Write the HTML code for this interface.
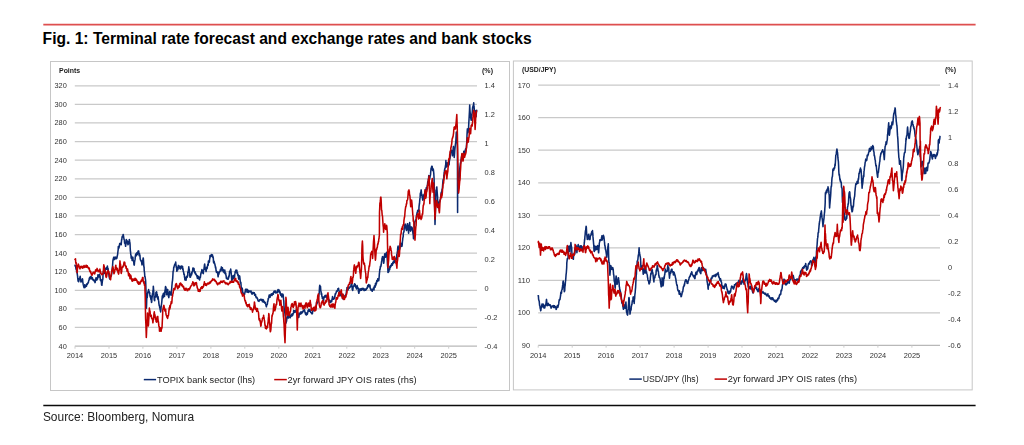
<!DOCTYPE html>
<html lang="en">
<head>
<meta charset="utf-8">
<title>Fig. 1: Terminal rate forecast and exchange rates and bank stocks</title>
<style>
  html, body { margin: 0; padding: 0; background: #ffffff; }
  body { width: 1024px; height: 445px; position: relative; overflow: hidden;
         font-family: 'Liberation Sans', sans-serif; }
  .title { position: absolute; left: 42.6px; top: 30.4px; margin: 0; font-size: 15.62px; line-height: 18px;
           font-weight: bold; color: #000; white-space: nowrap; }
  .source { position: absolute; left: 42.9px; top: 409.6px; margin: 0; font-size: 11.95px; line-height: 14px;
            color: #222; white-space: nowrap; }
  svg { position: absolute; left: 0; top: 0; will-change: transform; }
  svg text { font-family: 'Liberation Sans', sans-serif; }
</style>
</head>
<body>
<h1 class="title">Fig. 1: Terminal rate forecast and exchange rates and bank stocks</h1>
<svg width="1024" height="445" viewBox="0 0 1024 445">
<line x1="43.3" y1="24.65" x2="975.6" y2="24.65" stroke="#de4f4f" stroke-width="1.7"/>
<line x1="43.3" y1="405.55" x2="975.6" y2="405.55" stroke="#0a0a0a" stroke-width="1.5"/>
<rect x="50.5" y="61.5" width="459" height="329" fill="#fff" stroke="#c6c6c6"/>
<rect x="513.4" y="61" width="458.8" height="328.9" fill="#fff" stroke="#c6c6c6"/>
<line x1="74.8" y1="85.80" x2="477.0" y2="85.80" stroke="#c9c9c9" stroke-width="1.25"/>
<text x="66.8" y="88.0" font-size="7.9" text-anchor="end" font-weight="normal" fill="#333333" textLength="12.3" lengthAdjust="spacingAndGlyphs">320</text>
<line x1="74.8" y1="104.39" x2="477.0" y2="104.39" stroke="#c9c9c9" stroke-width="1.25"/>
<text x="66.8" y="107.0" font-size="7.9" text-anchor="end" font-weight="normal" fill="#333333" textLength="12.3" lengthAdjust="spacingAndGlyphs">300</text>
<line x1="74.8" y1="122.98" x2="477.0" y2="122.98" stroke="#c9c9c9" stroke-width="1.25"/>
<text x="66.8" y="125.0" font-size="7.9" text-anchor="end" font-weight="normal" fill="#333333" textLength="12.3" lengthAdjust="spacingAndGlyphs">280</text>
<line x1="74.8" y1="141.57" x2="477.0" y2="141.57" stroke="#c9c9c9" stroke-width="1.25"/>
<text x="66.8" y="144.0" font-size="7.9" text-anchor="end" font-weight="normal" fill="#333333" textLength="12.3" lengthAdjust="spacingAndGlyphs">260</text>
<line x1="74.8" y1="160.16" x2="477.0" y2="160.16" stroke="#c9c9c9" stroke-width="1.25"/>
<text x="66.8" y="163.0" font-size="7.9" text-anchor="end" font-weight="normal" fill="#333333" textLength="12.3" lengthAdjust="spacingAndGlyphs">240</text>
<line x1="74.8" y1="178.75" x2="477.0" y2="178.75" stroke="#c9c9c9" stroke-width="1.25"/>
<text x="66.8" y="181.0" font-size="7.9" text-anchor="end" font-weight="normal" fill="#333333" textLength="12.3" lengthAdjust="spacingAndGlyphs">220</text>
<line x1="74.8" y1="197.34" x2="477.0" y2="197.34" stroke="#c9c9c9" stroke-width="1.25"/>
<text x="66.8" y="200.0" font-size="7.9" text-anchor="end" font-weight="normal" fill="#333333" textLength="12.3" lengthAdjust="spacingAndGlyphs">200</text>
<line x1="74.8" y1="215.93" x2="477.0" y2="215.93" stroke="#c9c9c9" stroke-width="1.25"/>
<text x="66.8" y="218.0" font-size="7.9" text-anchor="end" font-weight="normal" fill="#333333" textLength="12.3" lengthAdjust="spacingAndGlyphs">180</text>
<line x1="74.8" y1="234.51" x2="477.0" y2="234.51" stroke="#c9c9c9" stroke-width="1.25"/>
<text x="66.8" y="237.0" font-size="7.9" text-anchor="end" font-weight="normal" fill="#333333" textLength="12.3" lengthAdjust="spacingAndGlyphs">160</text>
<line x1="74.8" y1="253.10" x2="477.0" y2="253.10" stroke="#c9c9c9" stroke-width="1.25"/>
<text x="66.8" y="256.0" font-size="7.9" text-anchor="end" font-weight="normal" fill="#333333" textLength="12.3" lengthAdjust="spacingAndGlyphs">140</text>
<line x1="74.8" y1="271.69" x2="477.0" y2="271.69" stroke="#c9c9c9" stroke-width="1.25"/>
<text x="66.8" y="274.0" font-size="7.9" text-anchor="end" font-weight="normal" fill="#333333" textLength="12.3" lengthAdjust="spacingAndGlyphs">120</text>
<line x1="74.8" y1="290.28" x2="477.0" y2="290.28" stroke="#c9c9c9" stroke-width="1.25"/>
<text x="66.8" y="293.0" font-size="7.9" text-anchor="end" font-weight="normal" fill="#333333" textLength="12.3" lengthAdjust="spacingAndGlyphs">100</text>
<line x1="74.8" y1="308.87" x2="477.0" y2="308.87" stroke="#c9c9c9" stroke-width="1.25"/>
<text x="66.8" y="311.0" font-size="7.9" text-anchor="end" font-weight="normal" fill="#333333" textLength="8.2" lengthAdjust="spacingAndGlyphs">80</text>
<line x1="74.8" y1="327.46" x2="477.0" y2="327.46" stroke="#c9c9c9" stroke-width="1.25"/>
<text x="66.8" y="330.0" font-size="7.9" text-anchor="end" font-weight="normal" fill="#333333" textLength="8.2" lengthAdjust="spacingAndGlyphs">60</text>
<line x1="74.8" y1="346.05" x2="477.0" y2="346.05" stroke="#b8b8b8" stroke-width="1.25"/>
<text x="66.8" y="349.0" font-size="7.9" text-anchor="end" font-weight="normal" fill="#333333" textLength="8.2" lengthAdjust="spacingAndGlyphs">40</text>
<text x="484.6" y="88.0" font-size="7.9" text-anchor="start" font-weight="normal" fill="#333333" textLength="10.3" lengthAdjust="spacingAndGlyphs">1.4</text>
<text x="484.6" y="117.0" font-size="7.9" text-anchor="start" font-weight="normal" fill="#333333" textLength="10.3" lengthAdjust="spacingAndGlyphs">1.2</text>
<text x="484.6" y="146.0" font-size="7.9" text-anchor="start" font-weight="normal" fill="#333333" textLength="4.1" lengthAdjust="spacingAndGlyphs">1</text>
<text x="484.6" y="175.0" font-size="7.9" text-anchor="start" font-weight="normal" fill="#333333" textLength="10.3" lengthAdjust="spacingAndGlyphs">0.8</text>
<text x="484.6" y="204.0" font-size="7.9" text-anchor="start" font-weight="normal" fill="#333333" textLength="10.3" lengthAdjust="spacingAndGlyphs">0.6</text>
<text x="484.6" y="233.0" font-size="7.9" text-anchor="start" font-weight="normal" fill="#333333" textLength="10.3" lengthAdjust="spacingAndGlyphs">0.4</text>
<text x="484.6" y="262.0" font-size="7.9" text-anchor="start" font-weight="normal" fill="#333333" textLength="10.3" lengthAdjust="spacingAndGlyphs">0.2</text>
<text x="484.6" y="291.0" font-size="7.9" text-anchor="start" font-weight="normal" fill="#333333" textLength="4.1" lengthAdjust="spacingAndGlyphs">0</text>
<text x="484.6" y="320.0" font-size="7.9" text-anchor="start" font-weight="normal" fill="#333333" textLength="12.8" lengthAdjust="spacingAndGlyphs">-0.2</text>
<text x="484.6" y="349.0" font-size="7.9" text-anchor="start" font-weight="normal" fill="#333333" textLength="12.8" lengthAdjust="spacingAndGlyphs">-0.4</text>
<line x1="75.0" y1="346.5" x2="75.0" y2="348.7" stroke="#cdcdcd"/>
<text x="75.0" y="358.4" font-size="7.9" text-anchor="middle" font-weight="normal" fill="#333333" textLength="16.5" lengthAdjust="spacingAndGlyphs">2014</text>
<line x1="109.0" y1="346.5" x2="109.0" y2="348.7" stroke="#cdcdcd"/>
<text x="109.0" y="358.4" font-size="7.9" text-anchor="middle" font-weight="normal" fill="#333333" textLength="16.5" lengthAdjust="spacingAndGlyphs">2015</text>
<line x1="142.9" y1="346.5" x2="142.9" y2="348.7" stroke="#cdcdcd"/>
<text x="142.9" y="358.4" font-size="7.9" text-anchor="middle" font-weight="normal" fill="#333333" textLength="16.5" lengthAdjust="spacingAndGlyphs">2016</text>
<line x1="176.9" y1="346.5" x2="176.9" y2="348.7" stroke="#cdcdcd"/>
<text x="176.9" y="358.4" font-size="7.9" text-anchor="middle" font-weight="normal" fill="#333333" textLength="16.5" lengthAdjust="spacingAndGlyphs">2017</text>
<line x1="210.9" y1="346.5" x2="210.9" y2="348.7" stroke="#cdcdcd"/>
<text x="210.9" y="358.4" font-size="7.9" text-anchor="middle" font-weight="normal" fill="#333333" textLength="16.5" lengthAdjust="spacingAndGlyphs">2018</text>
<line x1="244.8" y1="346.5" x2="244.8" y2="348.7" stroke="#cdcdcd"/>
<text x="244.8" y="358.4" font-size="7.9" text-anchor="middle" font-weight="normal" fill="#333333" textLength="16.5" lengthAdjust="spacingAndGlyphs">2019</text>
<line x1="278.8" y1="346.5" x2="278.8" y2="348.7" stroke="#cdcdcd"/>
<text x="278.8" y="358.4" font-size="7.9" text-anchor="middle" font-weight="normal" fill="#333333" textLength="16.5" lengthAdjust="spacingAndGlyphs">2020</text>
<line x1="312.8" y1="346.5" x2="312.8" y2="348.7" stroke="#cdcdcd"/>
<text x="312.8" y="358.4" font-size="7.9" text-anchor="middle" font-weight="normal" fill="#333333" textLength="16.5" lengthAdjust="spacingAndGlyphs">2021</text>
<line x1="346.8" y1="346.5" x2="346.8" y2="348.7" stroke="#cdcdcd"/>
<text x="346.8" y="358.4" font-size="7.9" text-anchor="middle" font-weight="normal" fill="#333333" textLength="16.5" lengthAdjust="spacingAndGlyphs">2022</text>
<line x1="380.7" y1="346.5" x2="380.7" y2="348.7" stroke="#cdcdcd"/>
<text x="380.7" y="358.4" font-size="7.9" text-anchor="middle" font-weight="normal" fill="#333333" textLength="16.5" lengthAdjust="spacingAndGlyphs">2023</text>
<line x1="414.7" y1="346.5" x2="414.7" y2="348.7" stroke="#cdcdcd"/>
<text x="414.7" y="358.4" font-size="7.9" text-anchor="middle" font-weight="normal" fill="#333333" textLength="16.5" lengthAdjust="spacingAndGlyphs">2024</text>
<line x1="448.7" y1="346.5" x2="448.7" y2="348.7" stroke="#cdcdcd"/>
<text x="448.7" y="358.4" font-size="7.9" text-anchor="middle" font-weight="normal" fill="#333333" textLength="16.5" lengthAdjust="spacingAndGlyphs">2025</text>
<text x="59.0" y="72.6" font-size="6.9" text-anchor="start" font-weight="bold" fill="#1a1a1a" textLength="21.2" lengthAdjust="spacingAndGlyphs">Points</text>
<text x="482.0" y="72.6" font-size="6.9" text-anchor="start" font-weight="bold" fill="#1a1a1a" textLength="11.0" lengthAdjust="spacingAndGlyphs">(%)</text>
<line x1="538.2" y1="85.20" x2="940.0" y2="85.20" stroke="#c9c9c9" stroke-width="1.25"/>
<text x="530.0" y="88.0" font-size="7.9" text-anchor="end" font-weight="normal" fill="#333333" textLength="12.3" lengthAdjust="spacingAndGlyphs">170</text>
<line x1="538.2" y1="117.72" x2="940.0" y2="117.72" stroke="#c9c9c9" stroke-width="1.25"/>
<text x="530.0" y="120.0" font-size="7.9" text-anchor="end" font-weight="normal" fill="#333333" textLength="12.3" lengthAdjust="spacingAndGlyphs">160</text>
<line x1="538.2" y1="150.24" x2="940.0" y2="150.24" stroke="#c9c9c9" stroke-width="1.25"/>
<text x="530.0" y="153.0" font-size="7.9" text-anchor="end" font-weight="normal" fill="#333333" textLength="12.3" lengthAdjust="spacingAndGlyphs">150</text>
<line x1="538.2" y1="182.76" x2="940.0" y2="182.76" stroke="#c9c9c9" stroke-width="1.25"/>
<text x="530.0" y="185.0" font-size="7.9" text-anchor="end" font-weight="normal" fill="#333333" textLength="12.3" lengthAdjust="spacingAndGlyphs">140</text>
<line x1="538.2" y1="215.28" x2="940.0" y2="215.28" stroke="#c9c9c9" stroke-width="1.25"/>
<text x="530.0" y="218.0" font-size="7.9" text-anchor="end" font-weight="normal" fill="#333333" textLength="12.3" lengthAdjust="spacingAndGlyphs">130</text>
<line x1="538.2" y1="247.79" x2="940.0" y2="247.79" stroke="#c9c9c9" stroke-width="1.25"/>
<text x="530.0" y="250.0" font-size="7.9" text-anchor="end" font-weight="normal" fill="#333333" textLength="12.3" lengthAdjust="spacingAndGlyphs">120</text>
<line x1="538.2" y1="280.31" x2="940.0" y2="280.31" stroke="#c9c9c9" stroke-width="1.25"/>
<text x="530.0" y="283.0" font-size="7.9" text-anchor="end" font-weight="normal" fill="#333333" textLength="12.3" lengthAdjust="spacingAndGlyphs">110</text>
<line x1="538.2" y1="312.83" x2="940.0" y2="312.83" stroke="#c9c9c9" stroke-width="1.25"/>
<text x="530.0" y="315.0" font-size="7.9" text-anchor="end" font-weight="normal" fill="#333333" textLength="12.3" lengthAdjust="spacingAndGlyphs">100</text>
<line x1="538.2" y1="345.35" x2="940.0" y2="345.35" stroke="#b8b8b8" stroke-width="1.25"/>
<text x="530.0" y="348.0" font-size="7.9" text-anchor="end" font-weight="normal" fill="#333333" textLength="8.2" lengthAdjust="spacingAndGlyphs">90</text>
<text x="948.0" y="88.0" font-size="7.9" text-anchor="start" font-weight="normal" fill="#333333" textLength="10.3" lengthAdjust="spacingAndGlyphs">1.4</text>
<text x="948.0" y="114.0" font-size="7.9" text-anchor="start" font-weight="normal" fill="#333333" textLength="10.3" lengthAdjust="spacingAndGlyphs">1.2</text>
<text x="948.0" y="140.0" font-size="7.9" text-anchor="start" font-weight="normal" fill="#333333" textLength="4.1" lengthAdjust="spacingAndGlyphs">1</text>
<text x="948.0" y="166.0" font-size="7.9" text-anchor="start" font-weight="normal" fill="#333333" textLength="10.3" lengthAdjust="spacingAndGlyphs">0.8</text>
<text x="948.0" y="192.0" font-size="7.9" text-anchor="start" font-weight="normal" fill="#333333" textLength="10.3" lengthAdjust="spacingAndGlyphs">0.6</text>
<text x="948.0" y="218.0" font-size="7.9" text-anchor="start" font-weight="normal" fill="#333333" textLength="10.3" lengthAdjust="spacingAndGlyphs">0.4</text>
<text x="948.0" y="244.0" font-size="7.9" text-anchor="start" font-weight="normal" fill="#333333" textLength="10.3" lengthAdjust="spacingAndGlyphs">0.2</text>
<text x="948.0" y="270.0" font-size="7.9" text-anchor="start" font-weight="normal" fill="#333333" textLength="4.1" lengthAdjust="spacingAndGlyphs">0</text>
<text x="948.0" y="296.0" font-size="7.9" text-anchor="start" font-weight="normal" fill="#333333" textLength="12.8" lengthAdjust="spacingAndGlyphs">-0.2</text>
<text x="948.0" y="322.0" font-size="7.9" text-anchor="start" font-weight="normal" fill="#333333" textLength="12.8" lengthAdjust="spacingAndGlyphs">-0.4</text>
<text x="948.0" y="348.0" font-size="7.9" text-anchor="start" font-weight="normal" fill="#333333" textLength="12.8" lengthAdjust="spacingAndGlyphs">-0.6</text>
<line x1="538.2" y1="345.5" x2="538.2" y2="347.7" stroke="#cdcdcd"/>
<text x="538.2" y="357.8" font-size="7.9" text-anchor="middle" font-weight="normal" fill="#333333" textLength="16.5" lengthAdjust="spacingAndGlyphs">2014</text>
<line x1="572.2" y1="345.5" x2="572.2" y2="347.7" stroke="#cdcdcd"/>
<text x="572.2" y="357.8" font-size="7.9" text-anchor="middle" font-weight="normal" fill="#333333" textLength="16.5" lengthAdjust="spacingAndGlyphs">2015</text>
<line x1="606.1" y1="345.5" x2="606.1" y2="347.7" stroke="#cdcdcd"/>
<text x="606.1" y="357.8" font-size="7.9" text-anchor="middle" font-weight="normal" fill="#333333" textLength="16.5" lengthAdjust="spacingAndGlyphs">2016</text>
<line x1="640.1" y1="345.5" x2="640.1" y2="347.7" stroke="#cdcdcd"/>
<text x="640.1" y="357.8" font-size="7.9" text-anchor="middle" font-weight="normal" fill="#333333" textLength="16.5" lengthAdjust="spacingAndGlyphs">2017</text>
<line x1="674.1" y1="345.5" x2="674.1" y2="347.7" stroke="#cdcdcd"/>
<text x="674.1" y="357.8" font-size="7.9" text-anchor="middle" font-weight="normal" fill="#333333" textLength="16.5" lengthAdjust="spacingAndGlyphs">2018</text>
<line x1="708.1" y1="345.5" x2="708.1" y2="347.7" stroke="#cdcdcd"/>
<text x="708.1" y="357.8" font-size="7.9" text-anchor="middle" font-weight="normal" fill="#333333" textLength="16.5" lengthAdjust="spacingAndGlyphs">2019</text>
<line x1="742.0" y1="345.5" x2="742.0" y2="347.7" stroke="#cdcdcd"/>
<text x="742.0" y="357.8" font-size="7.9" text-anchor="middle" font-weight="normal" fill="#333333" textLength="16.5" lengthAdjust="spacingAndGlyphs">2020</text>
<line x1="776.0" y1="345.5" x2="776.0" y2="347.7" stroke="#cdcdcd"/>
<text x="776.0" y="357.8" font-size="7.9" text-anchor="middle" font-weight="normal" fill="#333333" textLength="16.5" lengthAdjust="spacingAndGlyphs">2021</text>
<line x1="810.0" y1="345.5" x2="810.0" y2="347.7" stroke="#cdcdcd"/>
<text x="810.0" y="357.8" font-size="7.9" text-anchor="middle" font-weight="normal" fill="#333333" textLength="16.5" lengthAdjust="spacingAndGlyphs">2022</text>
<line x1="843.9" y1="345.5" x2="843.9" y2="347.7" stroke="#cdcdcd"/>
<text x="843.9" y="357.8" font-size="7.9" text-anchor="middle" font-weight="normal" fill="#333333" textLength="16.5" lengthAdjust="spacingAndGlyphs">2023</text>
<line x1="877.9" y1="345.5" x2="877.9" y2="347.7" stroke="#cdcdcd"/>
<text x="877.9" y="357.8" font-size="7.9" text-anchor="middle" font-weight="normal" fill="#333333" textLength="16.5" lengthAdjust="spacingAndGlyphs">2024</text>
<line x1="911.9" y1="345.5" x2="911.9" y2="347.7" stroke="#cdcdcd"/>
<text x="911.9" y="357.8" font-size="7.9" text-anchor="middle" font-weight="normal" fill="#333333" textLength="16.5" lengthAdjust="spacingAndGlyphs">2025</text>
<text x="522.0" y="72.2" font-size="6.9" text-anchor="start" font-weight="bold" fill="#1a1a1a" textLength="34.0" lengthAdjust="spacingAndGlyphs">(USD/JPY)</text>
<text x="945.0" y="72.2" font-size="6.9" text-anchor="start" font-weight="bold" fill="#1a1a1a" textLength="11.0" lengthAdjust="spacingAndGlyphs">(%)</text>
<path d="M75.0 265.2 L75.2 266.2 L75.5 265.8 L75.7 266.6 L75.9 268.4 L76.1 269.2 L76.3 267.8 L76.5 270.5 L76.7 270.1 L76.9 269.9 L77.1 272.7 L77.3 274.3 L77.6 276.4 L77.7 278.0 L77.9 279.3 L78.1 281.2 L78.3 281.0 L78.5 281.5 L78.7 281.7 L78.8 280.1 L79.0 278.8 L79.2 278.7 L79.4 278.2 L79.6 279.1 L79.8 277.9 L80.0 277.1 L80.2 276.2 L80.4 278.3 L80.6 280.6 L80.8 281.1 L81.0 282.0 L81.2 281.3 L81.4 280.7 L81.6 280.9 L81.8 279.8 L82.0 281.4 L82.2 280.3 L82.4 278.7 L82.6 279.4 L82.8 282.1 L83.0 283.0 L83.2 284.4 L83.4 285.1 L83.6 286.0 L83.8 286.9 L84.0 287.4 L84.2 287.7 L84.4 285.6 L84.6 284.8 L84.7 286.5 L84.9 286.8 L85.1 287.4 L85.3 286.4 L85.5 286.2 L85.7 285.8 L85.9 286.5 L86.1 285.0 L86.3 284.7 L86.5 286.2 L86.7 284.8 L86.9 283.7 L87.1 284.4 L87.3 284.3 L87.5 283.9 L87.7 283.1 L87.9 282.9 L88.1 282.9 L88.3 283.0 L88.5 281.6 L88.7 280.7 L88.9 280.2 L89.1 280.1 L89.3 278.1 L89.5 278.0 L89.7 277.4 L89.9 277.3 L90.1 278.9 L90.3 277.9 L90.4 276.8 L90.6 276.8 L90.8 277.3 L91.0 276.2 L91.2 277.1 L91.4 278.4 L91.6 277.9 L91.8 278.4 L92.0 279.1 L92.2 277.5 L92.4 277.7 L92.6 278.8 L92.8 279.4 L93.0 279.5 L93.2 280.3 L93.4 279.8 L93.6 280.3 L93.8 279.9 L94.0 280.3 L94.2 281.1 L94.4 281.5 L94.6 280.5 L94.8 282.0 L95.0 282.6 L95.2 282.2 L95.4 280.4 L95.6 279.1 L95.8 280.4 L96.0 277.7 L96.2 278.9 L96.3 279.1 L96.5 278.8 L96.7 279.3 L96.9 280.0 L97.1 277.8 L97.3 278.2 L97.5 279.1 L97.7 277.8 L97.9 274.9 L98.1 275.4 L98.3 275.0 L98.5 276.1 L98.7 275.6 L98.9 277.0 L99.1 275.7 L99.3 276.8 L99.5 274.2 L99.7 275.8 L99.9 275.6 L100.1 276.5 L100.3 279.6 L100.4 280.2 L100.6 280.6 L100.8 280.1 L101.0 279.4 L101.2 280.6 L101.4 282.5 L101.6 284.9 L101.7 284.5 L101.9 285.3 L102.1 283.4 L102.3 281.9 L102.5 279.8 L102.7 279.9 L102.9 278.3 L103.0 275.0 L103.2 272.5 L103.5 271.3 L103.7 272.2 L103.9 272.5 L104.1 273.1 L104.3 272.4 L104.5 272.4 L104.7 272.6 L104.9 273.5 L105.1 270.2 L105.3 268.4 L105.5 268.7 L105.7 268.5 L105.9 268.7 L106.1 268.9 L106.3 269.4 L106.5 268.0 L106.7 267.9 L106.8 267.2 L107.0 267.2 L107.2 268.4 L107.4 266.0 L107.6 269.0 L107.8 269.8 L108.0 268.2 L108.2 269.9 L108.4 271.9 L108.5 273.9 L108.7 274.0 L108.9 274.0 L109.1 276.5 L109.3 277.2 L109.5 278.3 L109.7 279.0 L109.9 277.3 L110.1 277.7 L110.3 276.7 L110.5 276.6 L110.7 276.5 L110.9 276.3 L111.1 275.5 L111.3 275.8 L111.5 274.5 L111.7 274.1 L111.9 272.2 L112.1 270.2 L112.2 268.6 L112.4 267.2 L112.6 265.3 L112.8 261.7 L113.0 259.8 L113.2 260.2 L113.4 258.1 L113.6 259.4 L113.8 257.2 L114.0 257.1 L114.2 258.3 L114.4 258.2 L114.6 259.4 L114.8 259.2 L115.0 257.6 L115.2 257.5 L115.4 257.1 L115.6 257.4 L115.8 258.3 L116.0 258.1 L116.2 257.4 L116.4 258.8 L116.5 257.6 L116.7 258.5 L116.9 258.1 L117.1 256.9 L117.3 255.9 L117.6 254.6 L117.8 252.5 L118.0 250.9 L118.2 249.6 L118.3 246.6 L118.5 247.3 L118.7 246.6 L118.9 248.1 L119.1 247.2 L119.3 246.6 L119.5 244.8 L119.7 243.5 L119.9 244.6 L120.1 243.4 L120.3 243.5 L120.5 243.4 L120.8 243.5 L121.0 244.6 L121.2 244.8 L121.4 242.0 L121.6 239.6 L121.8 239.9 L122.0 237.5 L122.1 237.1 L122.3 236.2 L122.5 236.8 L122.7 236.3 L122.9 236.9 L123.1 234.5 L123.3 234.6 L123.5 236.5 L123.7 237.5 L123.9 238.4 L124.1 239.7 L124.3 239.7 L124.5 241.9 L124.6 243.1 L124.8 243.3 L125.0 243.2 L125.2 243.8 L125.4 244.7 L125.6 246.3 L125.8 244.4 L126.0 244.2 L126.2 239.7 L126.4 239.5 L126.6 241.1 L126.8 241.8 L127.0 242.2 L127.2 242.7 L127.4 241.0 L127.6 241.4 L127.8 243.8 L128.0 244.8 L128.2 244.2 L128.4 243.5 L128.6 243.2 L128.8 243.6 L128.9 241.7 L129.1 242.2 L129.3 239.5 L129.5 240.1 L129.7 242.2 L129.9 242.6 L130.1 244.9 L130.2 248.0 L130.4 251.2 L130.6 252.6 L130.8 255.1 L131.0 255.1 L131.2 258.2 L131.4 257.1 L131.6 256.3 L131.8 257.9 L132.0 258.9 L132.1 260.4 L132.3 258.2 L132.5 258.7 L132.7 257.9 L132.9 257.2 L133.1 260.2 L133.3 260.7 L133.6 261.1 L133.8 262.7 L134.0 264.8 L134.2 265.1 L134.4 264.1 L134.5 262.1 L134.7 261.3 L134.9 260.0 L135.1 259.4 L135.3 256.3 L135.5 255.2 L135.7 254.1 L135.9 255.1 L136.1 255.9 L136.3 255.4 L136.5 253.5 L136.7 253.0 L136.9 252.7 L137.1 253.1 L137.3 254.6 L137.5 252.4 L137.7 253.5 L137.9 252.4 L138.1 251.1 L138.3 251.5 L138.5 252.9 L138.7 250.9 L138.8 252.3 L139.0 253.4 L139.2 255.6 L139.4 255.1 L139.6 253.8 L139.8 255.3 L140.0 256.1 L140.2 259.0 L140.4 259.6 L140.6 260.2 L140.8 260.4 L141.0 260.9 L141.2 260.6 L141.4 261.5 L141.6 262.0 L141.8 263.7 L142.0 264.9 L142.2 263.0 L142.4 264.0 L142.6 262.3 L142.8 260.0 L143.0 259.7 L143.1 258.1 L143.3 258.1 L143.5 260.6 L143.7 264.0 L143.9 266.9 L144.1 267.0 L144.2 270.5 L144.4 271.5 L144.6 273.3 L144.8 276.7 L145.0 276.4 L145.2 277.6 L145.4 279.1 L145.6 280.2 L145.8 284.7 L146.0 291.1 L146.2 300.2 L146.4 308.2 L146.6 304.3 L146.8 297.1 L147.1 296.2 L147.2 297.6 L147.4 295.6 L147.6 293.4 L147.8 292.5 L148.0 291.6 L148.2 292.0 L148.4 291.0 L148.6 289.6 L148.7 291.0 L148.9 291.5 L149.1 291.3 L149.3 292.2 L149.5 293.5 L149.7 292.5 L149.8 294.4 L150.0 295.9 L150.2 296.5 L150.4 297.3 L150.6 295.8 L150.8 298.9 L151.0 299.7 L151.3 300.2 L151.5 302.5 L151.7 302.1 L151.9 298.7 L152.1 297.3 L152.2 296.7 L152.4 294.1 L152.6 293.2 L152.8 292.4 L153.0 290.4 L153.2 289.7 L153.3 286.2 L153.5 288.2 L153.7 291.2 L153.9 293.9 L154.1 297.4 L154.3 300.3 L154.5 299.6 L154.7 300.7 L154.8 296.8 L155.0 297.5 L155.2 297.3 L155.4 296.5 L155.6 296.9 L155.8 295.8 L155.9 292.6 L156.1 293.2 L156.3 292.0 L156.5 291.8 L156.7 292.0 L156.9 294.6 L157.1 297.1 L157.3 294.5 L157.5 297.7 L157.8 299.0 L157.9 297.5 L158.1 296.7 L158.3 298.5 L158.5 300.2 L158.7 301.3 L158.9 303.8 L159.0 304.0 L159.2 305.6 L159.4 305.6 L159.6 307.1 L159.8 307.8 L160.0 308.4 L160.2 309.9 L160.4 310.3 L160.6 311.9 L160.8 310.9 L161.0 308.5 L161.2 306.4 L161.4 305.1 L161.6 303.5 L161.8 301.8 L162.0 299.4 L162.2 297.5 L162.3 296.0 L162.5 296.4 L162.7 295.1 L162.9 296.1 L163.1 297.8 L163.3 293.5 L163.5 294.0 L163.7 294.3 L163.9 293.1 L164.1 295.5 L164.3 295.3 L164.5 296.5 L164.7 293.7 L164.9 291.3 L165.1 289.9 L165.3 290.5 L165.4 287.0 L165.6 286.5 L165.8 289.1 L166.0 287.6 L166.2 292.5 L166.4 292.1 L166.5 294.6 L166.7 294.8 L166.9 294.1 L167.1 292.1 L167.3 289.6 L167.5 290.1 L167.7 289.4 L167.8 291.5 L168.0 293.0 L168.2 294.3 L168.4 296.3 L168.6 296.7 L168.8 297.6 L169.0 296.1 L169.2 294.6 L169.4 293.5 L169.6 291.6 L169.8 292.4 L170.0 293.6 L170.2 293.8 L170.4 294.2 L170.6 292.3 L170.8 292.5 L170.9 293.6 L171.1 295.3 L171.3 293.5 L171.5 291.0 L171.7 288.5 L171.9 285.8 L172.1 283.7 L172.2 282.4 L172.5 280.6 L172.7 278.4 L172.9 275.2 L173.1 271.4 L173.3 270.9 L173.5 270.8 L173.7 267.6 L173.9 267.7 L174.1 266.3 L174.3 266.2 L174.5 265.1 L174.7 264.4 L174.9 264.3 L175.1 263.7 L175.3 264.4 L175.5 263.4 L175.7 262.1 L175.9 264.3 L176.1 265.8 L176.3 267.3 L176.5 266.5 L176.7 269.7 L176.9 271.3 L177.0 270.9 L177.2 269.3 L177.4 268.0 L177.6 269.7 L177.8 269.8 L178.0 269.3 L178.2 267.6 L178.4 265.4 L178.6 266.0 L178.8 266.7 L179.0 266.3 L179.2 266.1 L179.4 267.0 L179.6 267.5 L179.8 268.4 L180.0 268.1 L180.2 268.1 L180.4 269.0 L180.6 267.3 L180.8 266.4 L181.0 266.1 L181.2 266.8 L181.4 267.8 L181.6 266.0 L181.8 268.0 L182.0 267.8 L182.2 267.2 L182.4 266.4 L182.6 266.6 L182.7 269.5 L182.9 268.3 L183.1 269.6 L183.3 271.6 L183.5 271.6 L183.7 272.5 L183.9 274.4 L184.1 274.6 L184.3 274.1 L184.5 277.0 L184.7 277.7 L184.9 279.9 L185.1 279.5 L185.3 279.2 L185.5 278.1 L185.7 279.0 L185.9 280.2 L186.1 280.1 L186.3 277.4 L186.5 276.5 L186.7 276.2 L186.9 276.3 L187.1 277.5 L187.3 277.0 L187.5 276.2 L187.7 275.7 L187.8 272.1 L188.0 272.7 L188.2 271.9 L188.4 270.3 L188.6 269.0 L188.8 266.8 L189.0 269.2 L189.2 269.0 L189.4 271.3 L189.6 272.9 L189.7 275.8 L189.9 276.2 L190.1 277.3 L190.3 277.2 L190.5 277.1 L190.7 276.0 L190.9 274.0 L191.1 275.0 L191.3 275.1 L191.5 275.0 L191.7 272.2 L191.9 273.9 L192.1 271.7 L192.3 271.9 L192.5 271.6 L192.7 269.7 L192.9 268.0 L193.1 268.9 L193.3 268.9 L193.5 268.2 L193.8 269.2 L194.0 268.4 L194.2 270.6 L194.4 272.1 L194.5 271.5 L194.7 272.7 L194.9 272.9 L195.1 271.8 L195.3 273.5 L195.5 274.1 L195.7 273.2 L195.9 274.2 L196.1 274.2 L196.3 275.2 L196.5 275.0 L196.7 275.1 L196.9 276.3 L197.1 275.4 L197.3 278.1 L197.5 277.0 L197.7 275.7 L197.9 277.7 L198.1 278.5 L198.3 277.4 L198.5 276.7 L198.7 277.7 L198.9 277.3 L199.0 278.3 L199.2 279.3 L199.4 277.7 L199.6 280.0 L199.8 278.5 L200.0 277.7 L200.2 276.6 L200.4 277.4 L200.6 275.5 L200.8 273.7 L201.0 273.8 L201.2 272.2 L201.4 272.7 L201.5 272.2 L201.7 271.5 L201.9 269.5 L202.1 270.2 L202.3 271.3 L202.5 271.1 L202.7 271.4 L202.9 273.1 L203.1 273.3 L203.3 273.6 L203.5 271.2 L203.7 269.9 L203.9 269.8 L204.1 267.8 L204.3 266.6 L204.5 264.7 L204.7 264.1 L204.9 266.1 L205.1 268.1 L205.3 269.5 L205.5 269.2 L205.7 269.1 L205.9 270.5 L206.1 271.5 L206.3 269.1 L206.5 268.1 L206.7 267.3 L206.9 268.4 L207.1 268.7 L207.3 267.5 L207.4 266.5 L207.6 265.6 L207.8 264.4 L208.0 264.6 L208.2 265.3 L208.4 261.0 L208.6 261.1 L208.8 261.8 L209.0 262.4 L209.2 262.2 L209.4 262.0 L209.6 259.3 L209.8 258.5 L210.0 255.6 L210.2 257.3 L210.4 255.2 L210.6 256.7 L210.8 255.7 L211.0 255.7 L211.2 256.4 L211.4 255.9 L211.6 254.5 L211.8 254.9 L212.0 255.4 L212.3 255.3 L212.5 255.0 L212.7 256.6 L212.9 257.7 L213.1 256.8 L213.3 258.1 L213.5 261.9 L213.7 262.8 L213.9 261.0 L214.1 261.6 L214.3 262.2 L214.5 263.8 L214.7 263.9 L214.9 264.0 L215.1 265.6 L215.3 266.1 L215.5 267.8 L215.7 267.0 L215.9 268.6 L216.1 271.1 L216.3 270.7 L216.5 272.4 L216.7 271.5 L216.9 271.5 L217.1 272.2 L217.3 271.9 L217.5 271.9 L217.7 272.9 L217.9 275.4 L218.1 276.8 L218.3 275.4 L218.5 273.8 L218.7 273.1 L218.9 274.1 L219.0 272.6 L219.2 271.7 L219.4 272.7 L219.6 271.7 L219.8 271.4 L220.0 271.1 L220.2 270.8 L220.4 269.3 L220.6 269.4 L220.8 271.0 L221.0 270.1 L221.2 268.6 L221.4 266.9 L221.6 267.9 L221.8 268.0 L222.0 269.7 L222.2 269.8 L222.4 267.7 L222.6 270.5 L222.8 270.8 L223.0 270.6 L223.2 269.6 L223.4 272.0 L223.6 270.2 L223.8 270.7 L224.0 270.3 L224.2 271.7 L224.4 272.9 L224.6 272.2 L224.8 270.1 L224.9 271.5 L225.1 272.0 L225.3 274.0 L225.5 273.1 L225.7 273.0 L225.9 275.2 L226.1 275.6 L226.3 277.7 L226.5 278.5 L226.7 278.5 L226.9 278.0 L227.1 278.5 L227.3 279.0 L227.5 279.1 L227.7 278.6 L227.9 278.9 L228.1 278.4 L228.3 279.1 L228.5 276.5 L228.7 277.9 L228.9 276.1 L229.1 275.5 L229.2 276.1 L229.4 273.6 L229.6 271.4 L229.8 271.8 L230.0 271.3 L230.2 272.4 L230.3 271.9 L230.5 270.1 L230.7 269.1 L230.9 270.5 L231.1 272.3 L231.2 273.7 L231.4 275.4 L231.6 278.3 L231.8 280.9 L232.0 280.3 L232.2 279.7 L232.4 279.1 L232.6 278.5 L232.8 278.0 L233.0 275.9 L233.2 275.7 L233.4 275.5 L233.6 275.6 L233.8 278.0 L234.0 278.8 L234.2 277.4 L234.4 275.6 L234.6 276.6 L234.7 274.7 L234.9 273.9 L235.2 271.6 L235.4 272.3 L235.6 270.9 L235.8 271.8 L236.0 270.1 L236.2 271.2 L236.4 270.5 L236.6 271.2 L236.8 271.1 L236.9 270.2 L237.1 273.4 L237.3 273.5 L237.5 272.5 L237.7 275.1 L237.9 274.4 L238.1 274.4 L238.4 277.0 L238.6 278.4 L238.7 279.1 L238.9 277.1 L239.1 278.0 L239.3 275.8 L239.5 277.5 L239.7 276.0 L239.8 277.0 L240.0 278.9 L240.2 280.6 L240.4 283.0 L240.6 282.3 L240.8 282.2 L241.0 284.1 L241.2 287.3 L241.4 290.1 L241.6 290.7 L241.8 289.1 L242.0 288.6 L242.2 288.1 L242.4 289.4 L242.5 291.0 L242.7 293.0 L242.9 292.1 L243.1 293.2 L243.3 294.4 L243.5 294.8 L243.7 295.1 L243.9 294.8 L244.1 295.0 L244.3 294.8 L244.5 294.7 L244.7 293.1 L244.9 293.0 L245.1 291.6 L245.3 291.9 L245.5 289.3 L245.7 289.8 L245.9 290.5 L246.1 289.2 L246.3 289.2 L246.5 289.7 L246.7 289.6 L246.9 291.0 L247.1 292.3 L247.2 290.8 L247.4 289.4 L247.6 289.7 L247.8 290.4 L248.0 290.4 L248.2 290.9 L248.4 292.5 L248.6 291.1 L248.8 291.7 L249.0 290.8 L249.2 291.5 L249.4 291.8 L249.6 291.6 L249.8 291.2 L250.0 291.5 L250.2 291.7 L250.4 291.2 L250.6 291.1 L250.8 291.3 L251.0 290.9 L251.2 292.5 L251.4 292.9 L251.6 293.3 L251.8 292.2 L251.9 293.6 L252.1 294.2 L252.3 293.5 L252.5 293.4 L252.7 292.9 L252.9 292.7 L253.1 292.6 L253.3 292.4 L253.5 292.4 L253.7 293.3 L253.9 293.5 L254.1 293.3 L254.3 292.8 L254.5 294.5 L254.7 295.3 L254.9 295.2 L255.1 294.5 L255.3 294.8 L255.5 294.4 L255.7 296.3 L255.9 296.9 L256.1 297.1 L256.3 297.6 L256.5 297.1 L256.7 297.6 L256.8 297.3 L257.0 298.2 L257.2 297.9 L257.4 298.8 L257.6 298.7 L257.8 299.8 L258.0 300.7 L258.2 300.9 L258.4 300.9 L258.6 300.8 L258.8 301.3 L259.0 301.4 L259.2 300.5 L259.4 300.6 L259.6 299.7 L259.8 300.3 L260.0 299.8 L260.2 299.8 L260.4 299.7 L260.6 300.0 L260.8 299.6 L261.0 299.1 L261.2 299.5 L261.4 300.1 L261.5 299.7 L261.7 300.3 L261.9 300.6 L262.1 299.5 L262.3 300.6 L262.5 301.8 L262.7 301.6 L262.9 300.1 L263.1 299.6 L263.3 300.2 L263.5 300.3 L263.7 300.6 L263.9 302.3 L264.1 302.2 L264.3 302.2 L264.5 301.8 L264.7 301.8 L264.9 303.2 L265.1 302.8 L265.3 302.6 L265.5 303.3 L265.7 303.8 L265.9 304.8 L266.1 305.9 L266.2 306.3 L266.4 306.8 L266.6 304.8 L266.8 305.3 L267.0 304.6 L267.2 304.5 L267.4 303.9 L267.6 301.2 L267.8 301.5 L268.0 300.8 L268.2 298.5 L268.4 299.2 L268.6 298.1 L268.8 297.2 L269.0 296.0 L269.3 294.9 L269.5 295.2 L269.7 297.0 L269.9 296.5 L270.1 297.2 L270.3 295.3 L270.5 295.6 L270.7 295.4 L270.9 294.4 L271.0 294.2 L271.2 294.0 L271.4 294.0 L271.6 293.8 L271.8 295.0 L272.0 295.5 L272.2 294.8 L272.4 294.0 L272.6 293.6 L272.8 293.3 L273.0 293.7 L273.2 294.3 L273.4 294.0 L273.6 292.4 L273.8 292.1 L274.0 291.3 L274.2 291.6 L274.4 291.4 L274.6 292.1 L274.8 291.1 L275.0 291.9 L275.2 292.1 L275.4 291.6 L275.6 291.0 L275.7 293.0 L275.9 292.7 L276.1 292.3 L276.3 292.6 L276.5 292.6 L276.7 292.7 L276.9 292.6 L277.1 292.4 L277.3 292.7 L277.5 291.3 L277.7 290.0 L277.9 290.7 L278.1 289.6 L278.3 291.0 L278.5 290.0 L278.7 291.2 L278.9 291.8 L279.1 290.0 L279.3 291.2 L279.5 292.6 L279.7 291.3 L279.9 291.5 L280.1 292.8 L280.3 292.7 L280.4 294.3 L280.6 295.2 L280.8 293.5 L281.0 294.4 L281.2 295.7 L281.4 295.6 L281.6 295.3 L281.8 296.9 L282.0 295.3 L282.2 294.1 L282.4 296.3 L282.6 296.3 L282.8 296.8 L283.0 294.3 L283.2 295.2 L283.4 297.7 L283.6 299.7 L283.8 301.0 L284.0 305.7 L284.2 308.5 L284.4 311.1 L284.6 311.3 L284.8 312.6 L285.0 314.0 L285.2 316.2 L285.4 315.7 L285.6 317.3 L285.7 321.1 L285.9 321.7 L286.1 322.9 L286.3 321.2 L286.5 321.4 L286.7 320.1 L286.9 318.5 L287.1 318.2 L287.3 317.1 L287.6 316.2 L287.8 315.9 L288.0 315.8 L288.2 315.2 L288.4 317.2 L288.6 318.0 L288.8 316.2 L289.0 315.0 L289.2 315.5 L289.4 312.7 L289.6 313.3 L289.8 314.9 L290.0 315.8 L290.1 317.0 L290.3 317.7 L290.5 316.3 L290.7 315.8 L290.9 316.2 L291.1 315.2 L291.3 315.4 L291.5 316.1 L291.7 314.7 L291.9 314.0 L292.1 315.5 L292.3 315.7 L292.5 313.7 L292.7 313.7 L292.9 315.0 L293.1 313.7 L293.3 313.4 L293.5 312.4 L293.7 310.4 L293.9 311.3 L294.1 311.7 L294.3 311.9 L294.5 310.8 L294.7 311.8 L294.8 312.5 L295.0 312.5 L295.2 312.0 L295.4 311.5 L295.6 310.9 L295.8 311.1 L296.0 310.1 L296.2 310.3 L296.4 310.8 L296.6 311.1 L296.8 312.0 L297.0 313.2 L297.2 313.3 L297.4 313.0 L297.6 313.0 L297.8 313.6 L298.0 313.0 L298.2 316.3 L298.5 316.5 L298.7 317.5 L298.9 316.9 L299.1 315.4 L299.3 314.4 L299.5 314.2 L299.6 313.9 L299.8 313.3 L300.0 312.8 L300.2 314.2 L300.4 312.8 L300.6 312.0 L300.8 312.6 L301.0 313.7 L301.2 313.6 L301.4 313.4 L301.6 312.3 L301.8 311.9 L302.0 312.2 L302.2 312.3 L302.4 312.7 L302.6 311.3 L302.8 311.3 L303.0 311.8 L303.2 311.1 L303.4 310.6 L303.6 310.7 L303.8 310.2 L304.0 310.2 L304.2 310.6 L304.3 310.6 L304.5 309.8 L304.7 310.9 L304.9 311.9 L305.1 312.9 L305.3 313.1 L305.5 314.1 L305.7 313.3 L305.9 312.8 L306.1 313.8 L306.3 315.0 L306.5 314.2 L306.7 314.5 L306.9 313.4 L307.1 314.0 L307.3 314.4 L307.5 313.6 L307.7 312.4 L307.9 311.8 L308.1 310.2 L308.3 311.4 L308.5 310.9 L308.7 310.7 L308.9 309.2 L309.0 310.4 L309.2 310.7 L309.4 311.3 L309.6 310.8 L309.8 310.6 L310.0 309.7 L310.2 311.4 L310.4 311.2 L310.6 312.3 L310.8 312.4 L311.0 312.4 L311.2 312.8 L311.4 312.7 L311.6 313.2 L311.8 313.7 L312.0 313.3 L312.2 313.3 L312.4 313.8 L312.6 311.2 L312.8 310.7 L313.0 309.7 L313.2 309.2 L313.4 309.8 L313.6 310.2 L313.7 310.6 L313.9 310.5 L314.1 309.3 L314.3 309.2 L314.5 308.3 L314.7 308.5 L314.9 309.8 L315.1 309.0 L315.3 309.3 L315.5 308.3 L315.7 306.8 L315.9 306.4 L316.1 307.4 L316.3 305.5 L316.5 303.8 L316.7 302.4 L316.9 303.9 L317.1 302.8 L317.3 302.5 L317.5 302.7 L317.7 302.2 L317.9 302.2 L318.1 300.1 L318.3 299.1 L318.5 296.8 L318.6 297.0 L318.8 295.7 L319.0 294.1 L319.2 293.0 L319.4 289.4 L319.6 286.3 L319.8 285.2 L320.0 286.5 L320.2 287.6 L320.5 286.4 L320.7 289.6 L320.9 290.9 L321.1 292.0 L321.3 294.5 L321.5 293.1 L321.7 293.9 L321.9 296.5 L322.1 296.5 L322.3 298.3 L322.5 298.6 L322.7 298.2 L322.9 297.2 L323.1 297.1 L323.3 297.4 L323.4 298.9 L323.6 300.9 L323.8 297.8 L324.0 297.7 L324.2 297.0 L324.4 296.5 L324.6 297.4 L324.8 296.3 L325.0 295.5 L325.2 296.0 L325.4 295.8 L325.6 296.7 L325.8 296.9 L326.0 295.2 L326.2 295.5 L326.4 295.7 L326.6 296.0 L326.8 297.3 L327.0 298.1 L327.2 297.3 L327.4 297.3 L327.6 297.5 L327.8 298.8 L328.0 298.5 L328.1 298.4 L328.3 297.4 L328.5 298.7 L328.7 299.3 L328.9 299.3 L329.1 300.8 L329.3 301.5 L329.5 302.5 L329.7 301.7 L329.9 301.6 L330.1 301.4 L330.3 302.4 L330.5 302.4 L330.7 301.9 L330.9 300.7 L331.1 301.4 L331.3 300.4 L331.5 300.7 L331.7 301.7 L331.9 300.3 L332.1 298.7 L332.3 298.7 L332.5 296.6 L332.7 296.9 L332.8 297.1 L333.0 298.5 L333.2 299.1 L333.4 299.1 L333.6 299.3 L333.8 298.6 L334.0 298.4 L334.2 298.1 L334.4 298.6 L334.6 297.7 L334.8 297.1 L335.0 296.0 L335.2 293.9 L335.4 293.7 L335.6 294.0 L335.8 293.4 L336.0 293.0 L336.2 292.3 L336.4 291.3 L336.6 291.9 L336.8 290.9 L337.0 291.1 L337.2 291.3 L337.4 290.4 L337.6 290.0 L337.8 288.8 L338.0 288.9 L338.2 289.6 L338.4 290.0 L338.6 288.3 L338.8 290.0 L339.0 290.5 L339.2 290.9 L339.4 291.7 L339.6 293.4 L339.8 293.6 L340.0 293.8 L340.2 294.9 L340.4 293.9 L340.6 293.9 L340.8 294.9 L341.0 295.9 L341.2 295.5 L341.4 295.5 L341.6 294.6 L341.8 294.1 L342.0 294.5 L342.2 294.1 L342.3 296.8 L342.5 296.8 L342.7 297.3 L342.9 298.9 L343.1 298.5 L343.3 297.6 L343.5 297.3 L343.7 297.2 L343.9 297.5 L344.1 297.9 L344.3 297.0 L344.5 297.1 L344.7 297.1 L344.9 295.5 L345.1 296.6 L345.3 296.9 L345.5 296.3 L345.7 295.4 L345.9 294.9 L346.1 294.1 L346.3 292.8 L346.5 291.1 L346.7 289.9 L346.9 290.1 L347.0 287.5 L347.2 289.1 L347.4 287.3 L347.6 288.6 L347.8 289.8 L348.0 290.0 L348.2 289.3 L348.4 288.4 L348.6 287.2 L348.8 288.0 L349.0 288.2 L349.2 287.3 L349.4 288.0 L349.6 287.7 L349.8 287.3 L350.0 287.4 L350.2 287.0 L350.4 286.3 L350.6 286.5 L350.8 286.5 L351.0 285.6 L351.2 284.1 L351.4 284.0 L351.6 283.5 L351.8 283.1 L351.9 285.6 L352.1 286.4 L352.3 289.8 L352.5 289.6 L352.7 290.4 L352.9 289.4 L353.1 287.3 L353.3 286.6 L353.5 286.4 L353.7 285.9 L353.9 286.1 L354.1 285.8 L354.3 284.7 L354.5 283.8 L354.8 283.9 L355.0 283.9 L355.2 284.5 L355.3 285.0 L355.5 286.9 L355.7 286.8 L355.9 287.6 L356.1 287.0 L356.3 288.0 L356.5 288.9 L356.7 286.3 L356.9 287.8 L357.1 285.6 L357.3 287.0 L357.4 286.8 L357.6 287.3 L357.8 287.8 L358.0 288.7 L358.2 288.0 L358.4 291.4 L358.6 292.3 L358.8 293.3 L359.0 293.0 L359.2 291.5 L359.4 289.5 L359.6 289.9 L359.8 289.1 L360.0 288.8 L360.2 289.0 L360.4 290.5 L360.6 290.3 L360.8 289.4 L361.0 288.8 L361.2 289.1 L361.4 290.2 L361.6 289.9 L361.8 289.8 L362.0 289.3 L362.2 288.2 L362.4 289.6 L362.6 289.3 L362.8 289.3 L363.0 289.1 L363.1 288.9 L363.3 288.6 L363.5 289.4 L363.7 288.6 L363.9 290.4 L364.1 290.3 L364.3 290.4 L364.5 290.4 L364.7 290.4 L364.9 289.3 L365.1 289.1 L365.3 289.1 L365.5 290.2 L365.7 289.2 L365.9 289.1 L366.1 289.7 L366.3 289.4 L366.5 289.0 L366.7 288.8 L366.9 287.8 L367.1 287.8 L367.3 288.2 L367.5 287.1 L367.7 285.5 L367.9 286.7 L368.1 286.5 L368.3 286.3 L368.5 285.1 L368.7 284.5 L368.9 284.6 L369.0 285.5 L369.2 286.8 L369.4 285.6 L369.6 286.0 L369.8 285.8 L370.0 285.3 L370.2 287.9 L370.4 288.7 L370.6 288.4 L370.8 288.9 L371.0 290.2 L371.2 290.3 L371.4 289.9 L371.6 290.2 L371.8 290.2 L372.0 290.3 L372.2 291.3 L372.4 289.6 L372.6 289.6 L372.8 289.7 L373.0 289.6 L373.2 288.5 L373.4 288.0 L373.6 288.7 L373.8 289.8 L374.0 290.0 L374.2 287.2 L374.4 286.1 L374.6 287.0 L374.8 287.0 L374.9 287.3 L375.1 287.2 L375.3 285.5 L375.5 283.2 L375.7 285.6 L375.9 283.9 L376.1 284.1 L376.3 284.0 L376.5 283.1 L376.7 280.8 L376.9 281.1 L377.1 281.0 L377.3 281.6 L377.5 280.5 L377.7 278.8 L377.9 279.4 L378.1 279.2 L378.4 279.7 L378.6 280.8 L378.8 280.4 L379.0 278.5 L379.2 276.2 L379.4 273.4 L379.6 272.0 L379.8 269.2 L380.0 269.5 L380.2 268.3 L380.4 266.3 L380.6 266.9 L380.9 266.3 L381.1 264.3 L381.2 265.1 L381.4 263.2 L381.6 261.4 L381.8 261.2 L382.0 258.4 L382.2 258.9 L382.4 256.7 L382.6 256.9 L382.8 256.6 L383.0 258.5 L383.2 260.1 L383.4 259.7 L383.6 263.3 L383.8 262.9 L384.0 261.2 L384.2 258.5 L384.4 256.8 L384.6 254.7 L384.8 253.7 L384.9 254.7 L385.1 254.8 L385.3 254.1 L385.5 257.2 L385.7 256.1 L386.0 255.0 L386.2 254.9 L386.4 252.7 L386.6 252.3 L386.8 256.6 L387.1 257.3 L387.3 260.4 L387.5 264.9 L387.8 267.8 L388.0 272.4 L388.2 272.5 L388.4 271.1 L388.6 271.7 L388.9 271.3 L389.1 269.7 L389.3 269.1 L389.5 268.3 L389.7 269.6 L389.9 266.3 L390.0 267.1 L390.2 267.8 L390.4 267.2 L390.6 266.9 L390.8 265.6 L391.0 266.4 L391.2 265.5 L391.4 264.8 L391.7 263.7 L391.9 265.1 L392.1 264.8 L392.3 265.1 L392.5 264.9 L392.8 262.5 L393.0 263.4 L393.2 262.2 L393.4 261.6 L393.6 263.0 L393.8 262.7 L394.0 261.3 L394.2 260.2 L394.4 261.6 L394.5 261.0 L394.7 262.3 L394.9 259.4 L395.1 259.3 L395.3 260.3 L395.6 260.8 L395.8 260.4 L396.0 259.3 L396.2 257.6 L396.4 259.8 L396.7 255.7 L396.9 254.0 L397.1 253.5 L397.3 252.3 L397.5 250.9 L397.7 248.3 L397.9 246.8 L398.1 246.1 L398.3 247.6 L398.5 248.3 L398.7 248.6 L398.9 247.5 L399.0 250.4 L399.2 250.1 L399.5 249.8 L399.7 248.7 L399.9 248.5 L400.1 246.0 L400.3 244.0 L400.6 243.0 L400.8 243.1 L401.0 245.0 L401.2 246.5 L401.4 246.0 L401.6 245.5 L401.8 245.4 L402.0 246.2 L402.2 244.7 L402.4 241.6 L402.6 240.3 L402.8 238.2 L403.0 237.3 L403.2 236.5 L403.3 233.4 L403.6 232.6 L403.8 231.8 L404.0 231.7 L404.2 228.0 L404.4 228.0 L404.7 225.0 L404.9 224.8 L405.1 224.1 L405.3 225.1 L405.5 224.8 L405.7 226.3 L405.9 228.3 L406.1 229.3 L406.3 229.6 L406.5 230.5 L406.7 229.8 L406.9 229.6 L407.1 226.9 L407.3 224.1 L407.5 223.7 L407.7 223.9 L407.9 227.1 L408.1 228.1 L408.3 230.1 L408.6 233.3 L408.8 230.6 L409.0 229.0 L409.2 225.6 L409.4 226.4 L409.7 222.6 L409.8 224.8 L410.0 226.5 L410.2 227.1 L410.4 230.4 L410.6 231.1 L410.8 230.0 L411.0 229.6 L411.2 228.6 L411.4 226.9 L411.6 227.4 L411.8 227.2 L412.0 227.4 L412.2 228.2 L412.5 230.5 L412.7 230.8 L412.9 233.1 L413.1 234.1 L413.3 235.2 L413.5 238.6 L413.8 238.6 L414.0 234.8 L414.2 229.7 L414.4 224.4 L414.6 224.5 L414.8 222.2 L415.0 221.4 L415.2 221.5 L415.4 220.1 L415.6 220.9 L415.8 221.0 L416.0 219.6 L416.2 218.9 L416.4 216.3 L416.6 214.8 L416.8 214.8 L417.0 213.2 L417.2 212.2 L417.4 211.7 L417.7 210.4 L417.9 211.3 L418.1 212.0 L418.3 211.3 L418.4 210.7 L418.6 209.9 L418.8 211.1 L419.0 207.1 L419.2 205.2 L419.5 203.5 L419.7 200.6 L419.9 198.8 L420.1 197.4 L420.3 193.6 L420.6 192.8 L420.8 192.5 L421.0 191.1 L421.2 189.9 L421.4 192.6 L421.6 194.4 L421.8 195.5 L422.0 194.5 L422.2 197.7 L422.4 198.1 L422.7 200.1 L422.9 197.3 L423.1 199.7 L423.2 198.0 L423.4 196.1 L423.6 197.0 L423.9 194.7 L424.1 194.2 L424.3 194.1 L424.5 194.1 L424.7 194.0 L424.9 191.8 L425.2 192.3 L425.4 191.6 L425.6 189.9 L425.8 191.2 L426.0 190.2 L426.2 187.7 L426.4 189.8 L426.6 189.1 L426.8 189.4 L427.0 188.1 L427.2 185.9 L427.4 185.4 L427.6 183.5 L427.7 182.4 L428.0 181.2 L428.2 182.3 L428.4 179.3 L428.6 177.9 L428.8 175.6 L429.0 176.8 L429.2 177.7 L429.4 178.9 L429.6 179.3 L429.8 177.6 L430.0 177.3 L430.2 175.7 L430.5 174.9 L430.7 172.0 L430.9 170.2 L431.1 168.0 L431.3 169.5 L431.5 168.0 L431.7 166.2 L431.9 166.2 L432.1 166.2 L432.3 167.2 L432.5 169.5 L432.7 170.5 L432.9 168.5 L433.1 169.2 L433.4 169.6 L433.6 171.5 L433.8 173.5 L434.1 179.0 L434.2 187.4 L434.4 196.9 L434.6 205.3 L434.8 214.1 L435.0 224.5 L435.2 218.8 L435.4 213.3 L435.6 204.3 L435.8 197.9 L436.0 190.1 L436.2 190.8 L436.4 190.2 L436.6 187.3 L436.8 187.0 L437.0 189.8 L437.3 193.9 L437.5 196.1 L437.7 200.9 L437.9 205.2 L438.2 207.8 L438.4 207.9 L438.6 207.1 L438.7 207.5 L438.9 205.9 L439.1 202.9 L439.3 202.5 L439.5 201.2 L439.7 201.9 L439.9 200.6 L440.1 200.5 L440.3 199.3 L440.5 199.3 L440.7 197.7 L441.0 194.9 L441.2 192.6 L441.4 192.0 L441.6 193.2 L441.8 191.9 L442.0 189.5 L442.1 189.8 L442.4 188.1 L442.6 185.3 L442.8 182.7 L443.0 180.2 L443.2 179.6 L443.4 180.6 L443.6 178.5 L443.8 177.2 L444.0 175.2 L444.2 172.0 L444.4 171.4 L444.6 169.7 L444.8 169.1 L445.0 168.4 L445.2 167.9 L445.5 165.7 L445.7 164.7 L445.9 160.5 L446.0 165.0 L446.2 167.1 L446.4 165.4 L446.6 165.3 L446.8 165.3 L447.0 164.1 L447.2 162.7 L447.4 164.4 L447.7 165.7 L447.9 166.3 L448.1 166.5 L448.3 166.4 L448.5 163.9 L448.7 164.3 L448.9 164.8 L449.1 164.7 L449.3 161.9 L449.4 160.8 L449.6 159.9 L449.8 158.5 L450.0 158.4 L450.2 156.4 L450.4 152.6 L450.6 152.5 L450.8 151.1 L451.1 150.8 L451.3 150.7 L451.5 150.2 L451.7 151.3 L451.9 151.9 L452.0 152.8 L452.2 154.7 L452.4 155.8 L452.6 154.6 L452.8 152.6 L453.0 151.2 L453.2 148.3 L453.4 146.4 L453.6 150.1 L453.8 151.8 L454.0 153.7 L454.2 157.5 L454.4 155.5 L454.6 153.0 L454.8 150.1 L455.0 148.2 L455.2 146.1 L455.4 144.3 L455.6 143.1 L455.8 141.7 L456.0 138.4 L456.3 132.0 L456.5 132.0 L456.7 135.7 L456.9 136.3 L457.2 141.3 L457.4 148.8 L457.6 212.4 L457.7 163.7 L457.9 178.7 L458.0 193.4 L458.2 190.7 L458.4 185.9 L458.6 181.7 L458.8 180.4 L459.1 179.0 L459.3 174.4 L459.5 171.0 L459.7 169.7 L459.9 167.2 L460.1 165.8 L460.3 164.0 L460.6 162.5 L460.8 161.9 L461.0 160.6 L461.2 158.8 L461.4 157.7 L461.6 156.6 L461.8 155.8 L462.0 154.6 L462.2 154.0 L462.4 155.8 L462.6 156.9 L462.8 158.7 L463.0 159.9 L463.2 157.9 L463.4 156.2 L463.6 154.2 L463.8 151.2 L464.0 151.4 L464.2 153.9 L464.4 154.8 L464.6 153.9 L464.8 153.5 L465.0 152.9 L465.2 150.0 L465.4 151.2 L465.6 148.9 L465.8 149.5 L466.0 148.4 L466.2 149.0 L466.4 147.6 L466.6 143.8 L466.8 142.2 L467.0 135.1 L467.2 131.4 L467.4 128.9 L467.6 131.9 L467.8 131.0 L468.0 132.6 L468.2 131.3 L468.4 129.8 L468.6 127.6 L468.8 122.8 L469.0 119.9 L469.3 114.4 L469.5 110.8 L469.7 105.1 L469.9 109.4 L470.1 111.9 L470.3 114.5 L470.5 117.1 L470.7 117.7 L470.9 118.7 L471.1 120.2 L471.3 120.2 L471.5 116.0 L471.7 115.9 L471.9 113.9 L472.1 113.3 L472.3 111.5 L472.5 108.8 L472.7 107.1 L472.9 106.9 L473.1 105.7 L473.3 105.8 L473.5 105.0 L473.7 102.7 L473.9 106.2 L474.1 107.2 L474.3 109.6 L474.5 110.9 L474.7 110.2 L474.9 110.8 L475.1 110.6 L475.3 112.3 L475.5 111.8 L475.7 114.6 L475.9 115.8 L476.1 116.8 L476.3 113.1 L476.5 111.8 L476.7 110.2" fill="none" stroke="#0b2a70" stroke-width="1.55" stroke-linejoin="round" stroke-linecap="round"/>
<path d="M75.0 259.4 L75.2 259.2 L75.5 258.9 L75.7 262.3 L75.9 263.4 L76.1 262.4 L76.3 264.9 L76.5 266.1 L76.7 268.3 L76.9 269.6 L77.1 272.6 L77.3 270.8 L77.4 268.6 L77.6 266.8 L77.8 266.4 L78.0 265.5 L78.2 264.1 L78.4 264.7 L78.6 265.6 L78.8 264.9 L79.0 266.3 L79.2 266.7 L79.4 267.9 L79.6 268.1 L79.8 268.2 L80.0 268.9 L80.2 268.0 L80.4 267.9 L80.6 266.6 L80.8 266.9 L81.0 266.3 L81.2 266.6 L81.4 266.9 L81.6 267.6 L81.8 267.5 L82.0 267.1 L82.2 266.4 L82.4 266.7 L82.6 267.5 L82.8 268.3 L83.0 267.8 L83.2 267.0 L83.4 266.4 L83.6 266.6 L83.8 266.0 L84.0 265.5 L84.2 265.8 L84.4 267.5 L84.6 266.9 L84.7 267.3 L84.9 267.1 L85.1 267.2 L85.3 266.8 L85.5 266.4 L85.7 266.8 L85.9 265.5 L86.1 265.2 L86.3 267.1 L86.5 267.3 L86.7 265.6 L86.9 266.1 L87.1 266.0 L87.3 265.8 L87.5 266.8 L87.7 267.3 L87.9 266.9 L88.1 267.7 L88.3 268.1 L88.5 268.3 L88.7 268.8 L88.9 268.7 L89.1 267.9 L89.3 268.2 L89.5 269.8 L89.7 271.1 L89.9 270.7 L90.1 270.7 L90.3 271.4 L90.4 272.1 L90.6 271.3 L90.8 272.6 L91.0 273.3 L91.2 273.1 L91.4 274.4 L91.6 274.7 L91.8 274.9 L92.0 275.3 L92.2 274.3 L92.4 274.5 L92.6 273.5 L92.8 272.9 L93.0 272.8 L93.2 272.3 L93.4 272.6 L93.6 272.9 L93.8 272.6 L94.0 272.3 L94.2 272.6 L94.4 273.2 L94.6 273.9 L94.8 273.8 L95.0 272.7 L95.2 271.6 L95.4 271.1 L95.6 269.9 L95.8 271.4 L96.0 270.9 L96.2 271.2 L96.3 270.9 L96.5 270.9 L96.7 270.0 L96.9 269.3 L97.1 268.4 L97.3 269.1 L97.5 270.2 L97.7 269.6 L97.9 270.6 L98.1 271.7 L98.3 271.3 L98.5 270.8 L98.7 271.1 L98.9 271.2 L99.1 271.3 L99.3 271.7 L99.5 270.4 L99.7 270.3 L99.9 269.1 L100.1 270.1 L100.3 271.6 L100.5 273.2 L100.7 271.8 L100.9 273.6 L101.1 273.7 L101.3 273.9 L101.5 274.3 L101.7 274.6 L101.9 274.5 L102.1 274.2 L102.2 274.2 L102.4 274.3 L102.6 273.9 L102.8 273.3 L103.0 274.0 L103.2 272.4 L103.4 270.4 L103.6 267.4 L103.8 264.8 L104.0 266.0 L104.2 266.3 L104.4 269.1 L104.6 269.6 L104.7 270.7 L104.9 270.7 L105.1 272.4 L105.3 271.5 L105.6 273.5 L105.8 276.1 L106.0 276.5 L106.2 277.4 L106.4 277.1 L106.6 276.7 L106.8 275.3 L107.0 274.1 L107.2 271.8 L107.4 271.8 L107.6 271.9 L107.8 272.7 L108.0 271.0 L108.1 270.4 L108.3 271.0 L108.5 271.4 L108.7 273.0 L108.9 271.8 L109.1 273.1 L109.3 273.3 L109.5 276.0 L109.7 277.3 L110.0 277.7 L110.2 278.6 L110.4 278.4 L110.6 279.8 L110.8 277.7 L111.0 276.6 L111.1 275.5 L111.3 274.0 L111.5 272.2 L111.7 271.3 L111.9 270.3 L112.1 271.0 L112.2 269.2 L112.4 269.4 L112.6 267.8 L112.8 266.6 L113.0 267.4 L113.2 268.5 L113.4 269.9 L113.6 271.0 L113.8 273.1 L114.0 273.7 L114.2 273.0 L114.4 272.4 L114.6 271.8 L114.8 270.3 L115.0 269.3 L115.2 268.5 L115.4 267.5 L115.6 266.0 L115.8 265.2 L116.0 266.4 L116.2 267.4 L116.4 267.8 L116.6 270.0 L116.8 268.5 L117.0 268.1 L117.2 268.3 L117.4 268.8 L117.6 269.1 L117.8 271.2 L118.0 272.6 L118.2 272.7 L118.4 273.7 L118.6 274.1 L118.8 273.3 L119.0 271.2 L119.2 270.4 L119.4 269.4 L119.6 266.8 L119.8 263.5 L120.0 260.9 L120.2 264.1 L120.4 263.8 L120.6 264.9 L120.8 267.4 L120.9 269.3 L121.1 273.1 L121.3 273.4 L121.5 271.2 L121.7 271.6 L121.9 267.5 L122.1 268.0 L122.3 267.0 L122.5 267.4 L122.7 266.6 L122.9 267.2 L123.1 265.9 L123.3 266.4 L123.5 265.6 L123.7 264.4 L123.9 263.2 L124.1 262.1 L124.3 262.3 L124.5 263.6 L124.7 262.2 L124.9 263.5 L125.1 264.9 L125.3 265.8 L125.5 265.6 L125.6 266.5 L125.8 266.4 L126.0 268.1 L126.2 266.2 L126.4 268.5 L126.6 268.4 L126.8 268.4 L127.0 271.3 L127.2 270.0 L127.4 269.9 L127.6 269.1 L127.8 271.0 L128.0 271.3 L128.2 272.6 L128.4 274.2 L128.6 275.8 L128.8 274.1 L129.0 274.7 L129.2 273.6 L129.4 273.8 L129.6 274.9 L129.8 276.6 L130.0 278.7 L130.2 276.6 L130.4 276.3 L130.6 275.1 L130.8 275.4 L131.0 277.6 L131.2 276.8 L131.3 277.9 L131.5 279.6 L131.7 279.6 L131.9 281.0 L132.1 280.7 L132.3 279.4 L132.5 281.2 L132.7 279.9 L132.9 280.4 L133.1 278.9 L133.3 279.5 L133.5 279.4 L133.7 279.3 L133.9 279.6 L134.1 280.5 L134.3 279.9 L134.5 280.1 L134.7 279.7 L134.9 278.4 L135.1 278.2 L135.3 278.5 L135.5 279.1 L135.7 280.3 L135.9 279.8 L136.1 279.0 L136.3 279.7 L136.5 279.6 L136.7 280.2 L136.9 280.5 L137.1 281.2 L137.2 282.1 L137.4 281.2 L137.6 282.5 L137.8 283.0 L138.0 283.5 L138.2 283.5 L138.4 284.0 L138.6 283.3 L138.8 284.3 L139.0 281.9 L139.2 283.3 L139.4 282.7 L139.6 282.9 L139.8 283.4 L140.0 284.0 L140.2 282.6 L140.4 283.0 L140.6 282.2 L140.8 281.2 L141.0 281.1 L141.2 281.0 L141.4 280.1 L141.6 281.2 L141.8 280.3 L142.0 280.8 L142.2 280.3 L142.4 277.7 L142.6 279.7 L142.8 278.3 L143.0 277.4 L143.1 280.3 L143.3 281.2 L143.5 281.9 L143.7 283.0 L143.9 283.1 L144.1 281.6 L144.3 284.0 L144.5 285.5 L144.7 284.4 L144.9 284.4 L145.0 290.8 L145.2 295.4 L145.4 308.3 L145.6 318.8 L145.9 324.4 L146.1 330.7 L146.3 337.5 L146.5 333.8 L146.7 328.5 L146.9 325.2 L147.1 321.1 L147.3 319.1 L147.5 313.1 L147.7 318.4 L147.9 322.5 L148.1 325.2 L148.3 325.9 L148.5 324.8 L148.7 320.5 L148.9 318.0 L149.0 315.3 L149.2 312.1 L149.4 308.0 L149.6 310.1 L149.8 312.6 L150.0 310.9 L150.3 314.4 L150.5 315.0 L150.7 316.3 L150.9 316.1 L151.1 315.8 L151.3 315.3 L151.5 317.9 L151.7 318.2 L151.9 318.7 L152.1 318.3 L152.3 318.6 L152.5 319.1 L152.7 321.1 L152.9 322.8 L153.0 322.4 L153.2 319.6 L153.4 320.0 L153.6 318.4 L153.8 315.9 L154.0 313.2 L154.1 313.2 L154.3 311.8 L154.6 314.8 L154.8 314.6 L155.0 314.9 L155.2 317.8 L155.4 317.2 L155.6 319.4 L155.8 319.7 L155.9 319.6 L156.1 321.8 L156.3 321.0 L156.5 321.1 L156.7 322.2 L156.9 320.6 L157.1 317.6 L157.3 316.5 L157.5 317.2 L157.8 316.5 L157.9 318.3 L158.1 320.3 L158.3 321.6 L158.5 322.1 L158.7 324.7 L158.9 326.5 L159.1 326.6 L159.3 326.8 L159.5 331.2 L159.7 329.8 L159.9 330.9 L160.1 329.7 L160.3 327.8 L160.5 330.2 L160.7 330.7 L160.9 330.1 L161.1 331.3 L161.3 330.1 L161.5 328.7 L161.6 327.5 L161.8 328.1 L162.0 327.9 L162.2 323.9 L162.4 319.6 L162.6 315.2 L162.8 309.8 L163.0 308.9 L163.2 307.9 L163.4 307.0 L163.5 306.5 L163.7 305.9 L163.9 305.4 L164.1 307.0 L164.3 307.0 L164.5 309.6 L164.6 309.5 L164.8 310.6 L165.0 310.2 L165.2 311.3 L165.4 309.9 L165.6 309.2 L165.8 311.0 L165.9 312.9 L166.1 314.8 L166.4 315.3 L166.6 316.0 L166.8 316.0 L167.0 317.5 L167.2 317.0 L167.4 315.9 L167.6 318.4 L167.8 316.5 L168.0 316.8 L168.2 315.4 L168.5 315.4 L168.6 314.2 L168.8 312.2 L169.0 310.1 L169.2 307.7 L169.4 309.5 L169.6 309.5 L169.7 307.2 L169.9 305.5 L170.1 308.1 L170.3 306.7 L170.5 305.4 L170.7 304.0 L170.8 304.2 L171.0 303.5 L171.2 301.6 L171.4 302.5 L171.6 303.5 L171.8 303.0 L172.0 300.7 L172.2 297.0 L172.4 297.0 L172.6 295.6 L172.8 293.9 L173.0 293.6 L173.2 292.8 L173.4 290.7 L173.5 289.7 L173.7 289.3 L173.9 288.5 L174.1 289.4 L174.3 289.8 L174.5 288.2 L174.7 288.8 L174.9 289.3 L175.1 287.9 L175.3 286.9 L175.5 285.1 L175.6 284.6 L175.8 284.8 L176.0 283.7 L176.2 283.8 L176.4 283.6 L176.6 284.3 L176.8 285.8 L177.0 286.6 L177.2 287.6 L177.4 287.3 L177.6 288.4 L177.8 288.7 L178.0 288.4 L178.2 287.3 L178.4 286.0 L178.6 286.3 L178.8 286.1 L179.0 286.3 L179.2 287.1 L179.4 287.0 L179.6 284.0 L179.8 283.7 L180.0 283.6 L180.2 284.1 L180.4 282.9 L180.6 282.9 L180.8 284.0 L181.0 283.5 L181.2 284.8 L181.3 285.3 L181.5 285.6 L181.7 284.4 L181.9 284.9 L182.1 284.6 L182.3 285.2 L182.5 285.7 L182.7 286.2 L182.9 286.9 L183.1 286.5 L183.3 287.1 L183.5 286.2 L183.7 287.1 L183.9 288.6 L184.1 289.0 L184.3 289.6 L184.5 289.8 L184.7 289.5 L184.9 288.5 L185.1 290.3 L185.3 289.6 L185.5 289.6 L185.7 290.0 L185.9 288.2 L186.1 288.3 L186.3 289.2 L186.5 289.5 L186.7 289.3 L186.9 289.7 L187.1 289.1 L187.2 290.6 L187.4 290.1 L187.6 290.3 L187.8 290.6 L188.0 289.7 L188.2 289.2 L188.4 288.8 L188.6 288.9 L188.8 289.0 L189.0 289.5 L189.2 289.1 L189.4 289.6 L189.6 288.2 L189.8 288.8 L190.0 288.2 L190.2 287.2 L190.4 287.2 L190.6 286.6 L190.8 286.4 L191.0 285.7 L191.2 285.6 L191.4 285.4 L191.6 285.4 L191.8 285.2 L192.0 284.4 L192.2 283.4 L192.4 283.4 L192.6 283.1 L192.8 281.8 L193.0 282.1 L193.1 282.8 L193.3 282.6 L193.5 283.9 L193.7 284.4 L193.9 285.9 L194.1 284.9 L194.3 284.1 L194.5 284.8 L194.7 285.3 L194.9 284.4 L195.1 282.7 L195.3 283.4 L195.5 284.1 L195.7 283.4 L195.9 283.9 L196.1 283.8 L196.3 282.6 L196.5 282.9 L196.7 284.7 L196.9 285.6 L197.1 287.0 L197.3 288.0 L197.5 288.1 L197.7 288.3 L197.9 289.1 L198.1 290.5 L198.3 291.3 L198.5 290.3 L198.7 290.0 L198.9 290.0 L199.0 290.3 L199.2 289.7 L199.4 290.7 L199.6 291.4 L199.8 290.7 L200.0 290.8 L200.2 291.2 L200.4 289.5 L200.6 288.4 L200.8 287.8 L201.0 288.5 L201.2 288.3 L201.4 288.3 L201.6 286.8 L201.8 288.1 L202.0 287.5 L202.2 288.5 L202.4 287.8 L202.6 287.4 L202.8 286.6 L203.0 287.4 L203.2 287.0 L203.4 286.6 L203.6 286.1 L203.8 284.2 L204.0 284.0 L204.2 283.6 L204.4 281.8 L204.6 283.5 L204.7 283.8 L204.9 284.2 L205.1 284.2 L205.3 285.0 L205.5 285.2 L205.7 284.5 L205.9 283.9 L206.1 284.3 L206.3 284.4 L206.5 285.5 L206.7 284.5 L206.9 283.7 L207.1 284.2 L207.3 284.0 L207.5 283.3 L207.7 283.6 L207.9 283.4 L208.1 283.9 L208.3 283.7 L208.5 284.0 L208.7 283.3 L208.9 283.8 L209.1 282.5 L209.3 283.1 L209.5 283.5 L209.7 283.3 L209.9 282.7 L210.1 281.8 L210.3 282.4 L210.5 282.9 L210.6 282.5 L210.8 282.0 L211.0 281.5 L211.2 281.4 L211.4 280.6 L211.6 281.0 L211.8 280.9 L212.0 280.5 L212.2 280.0 L212.4 280.1 L212.6 279.0 L212.8 278.9 L213.1 280.1 L213.3 279.4 L213.5 279.4 L213.7 279.6 L213.9 279.8 L214.1 279.4 L214.3 280.0 L214.4 280.0 L214.6 279.4 L214.8 280.3 L215.0 281.1 L215.2 280.7 L215.4 281.3 L215.6 281.4 L215.8 281.3 L216.0 281.3 L216.2 281.5 L216.4 282.8 L216.6 283.2 L216.8 282.9 L217.0 283.9 L217.2 283.0 L217.4 284.2 L217.6 284.7 L217.8 284.6 L218.0 284.1 L218.2 284.1 L218.4 283.5 L218.6 283.2 L218.8 283.8 L219.0 283.3 L219.2 282.6 L219.4 283.2 L219.6 282.9 L219.8 283.7 L220.0 283.5 L220.1 282.6 L220.3 282.7 L220.5 282.0 L220.7 281.2 L220.9 281.8 L221.1 281.3 L221.3 281.3 L221.5 282.2 L221.7 282.2 L221.9 282.1 L222.1 281.2 L222.3 281.7 L222.5 282.4 L222.7 282.3 L222.9 281.2 L223.1 281.0 L223.3 281.6 L223.5 281.4 L223.7 281.2 L223.9 280.8 L224.1 281.5 L224.3 281.9 L224.5 281.9 L224.7 282.4 L224.9 282.2 L225.1 282.8 L225.3 283.1 L225.5 283.7 L225.7 282.5 L225.9 283.1 L226.0 283.3 L226.2 283.6 L226.4 283.4 L226.6 283.3 L226.8 283.6 L227.0 283.5 L227.2 283.1 L227.4 284.1 L227.6 284.1 L227.8 283.8 L228.0 284.7 L228.2 284.7 L228.4 284.4 L228.6 284.3 L228.8 283.7 L229.0 283.7 L229.2 283.0 L229.4 283.4 L229.6 283.2 L229.8 282.9 L230.0 282.7 L230.2 281.4 L230.4 282.4 L230.6 282.6 L230.8 281.6 L231.0 282.1 L231.2 281.3 L231.4 281.6 L231.6 281.9 L231.8 281.5 L232.0 282.3 L232.2 282.0 L232.4 281.3 L232.6 282.0 L232.8 282.1 L233.0 282.1 L233.2 282.1 L233.4 282.0 L233.6 282.2 L233.8 281.4 L234.0 281.1 L234.2 280.2 L234.4 279.6 L234.6 279.2 L234.7 279.1 L234.9 280.2 L235.1 280.2 L235.3 279.4 L235.5 278.2 L235.7 278.4 L235.9 280.3 L236.1 281.3 L236.3 280.7 L236.5 281.1 L236.7 280.7 L236.9 280.9 L237.1 281.7 L237.3 281.3 L237.5 282.4 L237.7 282.4 L237.9 281.4 L238.1 282.7 L238.3 284.1 L238.5 284.1 L238.7 283.1 L238.9 284.0 L239.1 284.1 L239.3 284.8 L239.4 285.5 L239.6 287.1 L239.8 285.9 L240.0 287.6 L240.2 288.3 L240.4 288.3 L240.6 288.6 L240.8 290.8 L241.0 291.6 L241.2 292.6 L241.4 292.8 L241.6 293.5 L241.8 293.5 L242.0 293.8 L242.2 294.5 L242.4 295.3 L242.5 296.1 L242.7 295.9 L242.9 294.6 L243.1 294.2 L243.3 294.9 L243.5 294.3 L243.7 294.7 L243.9 295.5 L244.1 295.5 L244.3 296.2 L244.5 298.3 L244.7 299.3 L244.9 300.3 L245.1 301.1 L245.3 300.4 L245.5 301.0 L245.7 303.2 L245.9 302.6 L246.1 302.4 L246.3 303.8 L246.5 305.0 L246.7 304.5 L246.9 305.7 L247.1 306.1 L247.2 305.3 L247.4 304.9 L247.6 305.9 L247.8 306.7 L248.0 305.6 L248.2 304.8 L248.4 306.1 L248.6 306.0 L248.8 305.8 L249.0 304.7 L249.2 304.3 L249.4 305.0 L249.6 307.1 L249.8 306.9 L250.0 307.7 L250.2 307.4 L250.4 309.4 L250.6 308.5 L250.8 309.0 L251.0 308.3 L251.2 309.3 L251.4 308.0 L251.6 308.8 L251.8 309.5 L251.9 309.5 L252.1 310.3 L252.3 310.7 L252.5 312.2 L252.7 310.9 L252.9 310.8 L253.1 309.3 L253.3 309.6 L253.5 309.2 L253.7 308.5 L253.9 306.5 L254.2 305.1 L254.4 302.0 L254.6 302.5 L254.8 304.8 L255.0 305.4 L255.2 307.2 L255.4 309.3 L255.6 309.5 L255.8 307.8 L256.0 308.5 L256.2 309.6 L256.5 310.1 L256.7 311.5 L256.8 310.1 L257.0 309.0 L257.2 308.6 L257.4 308.6 L257.6 310.1 L257.8 311.1 L258.0 311.5 L258.3 311.8 L258.5 312.7 L258.7 315.1 L258.9 318.3 L259.1 320.0 L259.3 319.6 L259.5 318.4 L259.7 319.3 L259.9 321.1 L260.1 320.2 L260.3 322.1 L260.5 323.7 L260.6 324.4 L260.8 326.2 L261.1 325.4 L261.3 322.4 L261.5 322.8 L261.7 321.8 L261.9 321.7 L262.2 319.9 L262.4 318.3 L262.6 318.5 L262.8 317.7 L263.0 317.5 L263.2 318.2 L263.4 317.5 L263.6 315.3 L263.8 316.4 L264.0 317.3 L264.2 319.0 L264.4 320.5 L264.6 321.1 L264.8 323.3 L265.0 325.4 L265.2 324.9 L265.4 328.2 L265.6 325.9 L265.8 328.2 L266.1 327.9 L266.3 328.9 L266.5 326.7 L266.7 326.5 L266.9 327.5 L267.1 327.1 L267.3 327.4 L267.5 327.6 L267.7 325.0 L267.9 322.7 L268.1 322.4 L268.3 319.2 L268.6 316.4 L268.8 313.6 L269.0 314.5 L269.2 318.8 L269.4 321.7 L269.6 324.0 L269.8 324.6 L270.0 327.3 L270.2 331.0 L270.4 331.8 L270.6 331.0 L270.9 329.3 L271.1 326.3 L271.3 322.7 L271.5 323.7 L271.6 322.6 L271.8 318.8 L272.0 315.6 L272.2 316.1 L272.4 314.5 L272.6 314.6 L272.8 313.5 L273.0 313.2 L273.2 311.6 L273.4 308.6 L273.6 306.5 L273.8 304.9 L274.0 303.8 L274.2 307.4 L274.4 310.3 L274.6 310.1 L274.8 310.8 L275.0 309.5 L275.2 309.7 L275.3 308.7 L275.5 307.0 L275.7 307.8 L275.9 305.6 L276.1 304.2 L276.4 304.8 L276.6 304.7 L276.8 302.3 L277.0 299.6 L277.2 298.6 L277.5 296.9 L277.7 296.6 L277.9 294.4 L278.1 295.0 L278.3 296.2 L278.5 298.4 L278.7 299.6 L278.9 300.4 L279.1 300.9 L279.3 300.0 L279.5 301.6 L279.7 302.5 L279.8 305.2 L280.0 303.5 L280.2 302.4 L280.4 301.5 L280.7 301.4 L280.9 300.2 L281.1 303.3 L281.2 304.4 L281.4 307.0 L281.6 308.0 L281.8 311.0 L282.0 310.3 L282.2 310.1 L282.4 309.8 L282.6 309.4 L282.8 306.6 L283.0 310.4 L283.2 313.8 L283.4 316.8 L283.6 317.8 L283.8 321.1 L284.1 324.8 L284.3 330.0 L284.5 335.0 L284.7 337.5 L285.0 342.8 L285.2 336.4 L285.3 331.8 L285.5 326.6 L285.7 310.0 L285.9 297.3 L286.2 299.7 L286.4 304.3 L286.6 308.2 L286.8 309.8 L287.1 311.6 L287.3 315.2 L287.5 313.3 L287.8 309.1 L288.0 307.2 L288.2 308.8 L288.4 311.1 L288.7 311.9 L288.9 313.5 L289.1 315.8 L289.3 314.5 L289.4 315.0 L289.6 312.3 L289.9 312.6 L290.1 312.4 L290.3 311.6 L290.5 311.1 L290.7 309.2 L290.9 307.2 L291.1 306.7 L291.3 305.8 L291.5 304.5 L291.7 304.8 L291.9 304.1 L292.1 303.5 L292.3 303.8 L292.5 306.4 L292.7 306.7 L292.9 305.9 L293.1 306.5 L293.3 307.4 L293.5 306.1 L293.7 306.5 L293.9 304.5 L294.1 304.0 L294.3 303.6 L294.5 301.7 L294.7 301.7 L294.8 302.0 L295.0 304.1 L295.2 304.7 L295.4 301.9 L295.6 301.5 L295.8 302.8 L296.0 303.0 L296.2 306.4 L296.4 308.9 L296.6 309.7 L296.9 316.7 L297.1 323.2 L297.3 330.1 L297.5 322.6 L297.8 314.2 L298.0 307.4 L298.2 307.2 L298.4 305.5 L298.6 305.1 L298.8 306.0 L299.0 303.0 L299.2 304.4 L299.4 303.7 L299.6 304.2 L299.8 304.8 L300.1 306.8 L300.2 305.6 L300.4 303.5 L300.6 304.1 L300.8 304.3 L301.0 303.0 L301.2 305.0 L301.4 305.9 L301.6 305.6 L301.8 305.2 L302.0 305.5 L302.2 307.0 L302.4 307.5 L302.6 305.8 L302.9 308.3 L303.1 309.0 L303.3 308.0 L303.5 307.2 L303.7 306.6 L304.0 306.0 L304.2 305.5 L304.4 305.4 L304.6 307.0 L304.7 305.8 L304.9 308.3 L305.1 307.2 L305.3 306.4 L305.5 304.8 L305.7 303.4 L305.9 303.9 L306.1 302.8 L306.3 303.7 L306.5 303.4 L306.7 304.6 L307.0 306.8 L307.2 307.3 L307.4 307.7 L307.6 306.7 L307.8 305.6 L308.1 304.6 L308.3 303.1 L308.5 304.0 L308.7 304.7 L308.9 305.9 L309.1 305.9 L309.2 304.9 L309.4 306.5 L309.6 303.2 L309.8 302.6 L310.0 302.6 L310.2 300.4 L310.4 302.7 L310.6 303.9 L310.9 304.3 L311.1 307.2 L311.3 310.1 L311.5 310.4 L311.7 307.9 L311.9 308.5 L312.1 309.6 L312.3 309.9 L312.5 309.4 L312.7 308.4 L312.9 309.2 L313.1 309.3 L313.3 309.4 L313.5 309.4 L313.7 308.0 L313.8 307.4 L314.0 309.1 L314.2 308.8 L314.4 310.6 L314.6 310.0 L314.8 311.0 L315.0 309.0 L315.2 306.3 L315.4 308.1 L315.6 310.5 L315.9 310.1 L316.1 308.5 L316.3 305.2 L316.5 302.3 L316.7 301.8 L316.9 301.3 L317.1 299.8 L317.3 299.1 L317.5 299.2 L317.7 296.3 L317.9 295.0 L318.0 295.3 L318.2 294.7 L318.4 293.9 L318.7 297.0 L318.9 301.0 L319.1 302.7 L319.3 304.9 L319.5 305.9 L319.7 306.3 L320.0 307.5 L320.2 307.4 L320.4 307.6 L320.6 307.1 L320.8 306.4 L321.0 305.8 L321.2 303.8 L321.4 302.7 L321.6 303.0 L321.8 302.4 L322.0 301.6 L322.2 301.4 L322.4 301.6 L322.6 300.6 L322.8 301.6 L323.0 301.0 L323.2 301.9 L323.3 304.3 L323.5 304.4 L323.7 303.3 L323.9 302.9 L324.1 305.2 L324.3 303.3 L324.5 303.1 L324.7 303.3 L324.9 303.0 L325.1 303.5 L325.3 301.6 L325.5 301.8 L325.7 302.5 L325.9 300.4 L326.1 301.8 L326.3 300.8 L326.5 301.7 L326.7 301.7 L326.9 300.2 L327.1 298.5 L327.3 296.6 L327.5 294.9 L327.6 293.7 L327.8 294.5 L328.0 292.8 L328.2 295.8 L328.4 295.9 L328.6 299.5 L328.9 300.7 L329.0 304.3 L329.2 304.7 L329.4 305.4 L329.6 305.7 L329.8 306.3 L330.0 305.8 L330.2 305.8 L330.4 306.8 L330.6 305.8 L330.8 305.2 L331.0 307.1 L331.2 304.2 L331.4 305.5 L331.6 306.2 L331.8 306.8 L332.0 306.7 L332.2 305.4 L332.4 306.1 L332.6 304.0 L332.8 304.1 L332.9 307.3 L333.1 305.6 L333.3 305.9 L333.5 304.0 L333.7 305.0 L333.9 304.4 L334.1 305.6 L334.3 305.9 L334.5 306.2 L334.7 307.4 L334.9 308.3 L335.1 305.5 L335.3 303.9 L335.5 302.6 L335.8 302.2 L336.0 300.0 L336.2 297.8 L336.4 298.6 L336.6 298.8 L336.8 299.1 L337.0 297.6 L337.2 299.1 L337.4 298.2 L337.5 298.7 L337.7 297.5 L337.9 296.7 L338.1 295.2 L338.3 295.7 L338.5 295.6 L338.7 293.8 L338.9 292.4 L339.1 294.9 L339.3 295.9 L339.5 294.4 L339.7 294.3 L339.9 293.4 L340.1 293.3 L340.3 292.1 L340.5 291.4 L340.8 291.5 L341.0 291.8 L341.2 289.8 L341.4 290.5 L341.6 293.5 L341.8 294.9 L342.0 296.7 L342.2 298.1 L342.3 297.0 L342.5 298.1 L342.7 296.7 L342.9 294.6 L343.1 294.2 L343.3 295.2 L343.5 296.6 L343.7 298.7 L343.9 299.5 L344.1 298.6 L344.3 297.6 L344.5 299.3 L344.7 298.6 L344.9 296.5 L345.1 296.9 L345.3 297.5 L345.5 296.6 L345.7 297.2 L345.9 296.6 L346.1 294.7 L346.3 294.7 L346.5 294.6 L346.7 292.9 L346.9 293.2 L347.1 290.2 L347.4 290.2 L347.6 288.1 L347.8 287.7 L348.0 287.2 L348.2 285.8 L348.3 285.0 L348.5 285.1 L348.7 285.2 L348.9 284.2 L349.2 284.7 L349.4 284.3 L349.6 282.6 L349.8 282.2 L350.0 283.5 L350.1 283.5 L350.3 281.3 L350.5 278.5 L350.7 277.6 L350.9 276.5 L351.1 277.7 L351.3 278.2 L351.5 280.1 L351.7 282.0 L351.9 281.4 L352.1 283.3 L352.3 282.4 L352.6 280.0 L352.8 277.3 L353.0 277.7 L353.2 276.8 L353.4 275.5 L353.6 270.6 L353.8 269.2 L354.0 267.4 L354.2 265.7 L354.4 264.9 L354.6 266.2 L354.8 266.9 L355.0 267.8 L355.2 270.3 L355.4 271.6 L355.6 272.2 L355.8 273.3 L356.0 270.5 L356.2 269.1 L356.3 266.5 L356.5 268.3 L356.7 266.8 L356.9 266.0 L357.2 266.7 L357.4 267.0 L357.6 266.8 L357.8 265.7 L358.0 265.3 L358.2 265.1 L358.4 264.0 L358.6 262.3 L358.8 262.4 L359.0 262.6 L359.2 264.0 L359.4 266.8 L359.6 268.6 L359.8 270.2 L360.0 273.2 L360.2 273.0 L360.4 275.1 L360.6 278.4 L360.8 276.4 L361.0 273.2 L361.2 271.5 L361.4 269.5 L361.6 262.4 L361.8 257.5 L361.9 249.3 L362.1 244.7 L362.4 241.1 L362.5 242.7 L362.7 246.0 L362.9 255.5 L363.1 258.6 L363.4 261.5 L363.6 263.5 L363.8 263.0 L364.0 264.5 L364.2 263.0 L364.4 263.4 L364.6 264.9 L364.8 265.5 L365.0 268.8 L365.2 270.2 L365.4 271.3 L365.6 272.7 L365.8 273.5 L365.9 277.6 L366.1 279.1 L366.3 282.9 L366.6 282.1 L366.8 279.4 L367.0 280.2 L367.2 279.8 L367.4 277.6 L367.6 276.8 L367.8 277.6 L368.0 275.0 L368.2 272.7 L368.4 271.5 L368.6 270.6 L368.8 269.2 L369.0 267.3 L369.2 265.9 L369.5 266.5 L369.7 264.6 L369.9 262.8 L370.1 261.3 L370.3 260.1 L370.5 256.3 L370.7 254.2 L370.9 254.0 L371.0 253.0 L371.2 253.4 L371.4 252.3 L371.6 251.9 L371.8 251.4 L372.0 253.4 L372.2 254.9 L372.4 254.5 L372.6 258.4 L372.9 253.8 L373.1 249.3 L373.3 245.7 L373.5 241.9 L373.8 238.4 L374.0 235.5 L374.2 239.0 L374.5 244.0 L374.7 249.5 L374.9 253.3 L375.1 256.2 L375.4 260.2 L375.6 258.9 L375.8 255.9 L376.0 253.8 L376.1 252.0 L376.3 249.1 L376.5 249.5 L376.7 249.7 L376.9 247.8 L377.1 248.0 L377.3 247.3 L377.5 245.6 L377.7 243.9 L378.0 244.2 L378.2 242.8 L378.4 241.4 L378.6 241.8 L378.8 238.7 L379.0 238.8 L379.2 236.3 L379.4 235.4 L379.5 212.2 L379.7 208.2 L379.9 202.9 L380.2 202.7 L380.4 200.7 L380.6 197.3 L380.9 197.1 L381.1 199.5 L381.3 203.5 L381.5 209.9 L381.8 210.4 L382.0 212.9 L382.2 215.3 L382.5 215.9 L382.7 219.5 L382.9 222.4 L383.1 225.1 L383.4 227.6 L383.6 232.2 L383.8 228.8 L384.0 228.2 L384.2 226.6 L384.4 227.0 L384.6 225.6 L384.8 223.7 L384.9 224.0 L385.1 226.4 L385.3 227.7 L385.5 229.1 L385.7 229.4 L386.0 228.6 L386.2 228.2 L386.4 227.3 L386.6 225.3 L386.8 226.4 L387.1 230.3 L387.3 231.8 L387.5 243.7 L387.7 251.7 L388.0 267.7 L388.2 264.6 L388.4 262.7 L388.7 259.4 L388.9 255.3 L389.1 253.4 L389.4 249.5 L389.6 248.8 L389.7 249.9 L389.9 247.8 L390.1 246.3 L390.3 246.7 L390.5 248.6 L390.8 247.9 L391.0 250.5 L391.2 250.5 L391.4 251.4 L391.6 255.1 L391.8 255.7 L392.0 256.9 L392.2 259.2 L392.4 259.4 L392.6 258.9 L392.8 258.5 L393.0 258.1 L393.3 257.2 L393.5 258.0 L393.7 259.5 L393.9 258.3 L394.1 258.1 L394.2 256.8 L394.4 256.5 L394.6 259.0 L394.8 258.0 L395.1 259.2 L395.3 259.3 L395.5 259.0 L395.6 259.6 L395.8 261.4 L396.0 263.6 L396.2 262.4 L396.4 264.1 L396.7 266.5 L396.9 268.2 L397.1 263.6 L397.4 261.1 L397.6 260.1 L397.8 257.3 L398.0 254.9 L398.2 253.1 L398.4 251.1 L398.6 250.7 L398.8 252.5 L399.0 254.2 L399.2 256.5 L399.5 254.0 L399.7 250.2 L399.9 246.6 L400.1 242.6 L400.4 238.7 L400.6 234.3 L400.8 234.4 L401.1 233.6 L401.3 230.9 L401.5 229.8 L401.7 228.2 L401.9 228.8 L402.2 228.4 L402.4 226.6 L402.6 229.3 L402.8 227.2 L403.0 225.4 L403.2 224.7 L403.3 224.6 L403.6 225.1 L403.8 223.1 L404.0 219.9 L404.2 219.1 L404.4 217.1 L404.6 217.2 L404.8 215.0 L405.0 212.2 L405.1 211.1 L405.3 209.3 L405.5 208.1 L405.7 206.5 L405.9 206.8 L406.1 205.9 L406.3 205.0 L406.5 203.4 L406.7 203.8 L406.9 200.6 L407.1 200.4 L407.3 200.3 L407.5 199.8 L407.7 199.1 L407.9 196.9 L408.1 194.0 L408.3 191.0 L408.5 192.4 L408.7 190.7 L409.0 189.9 L409.2 191.3 L409.3 191.2 L409.5 194.5 L409.7 195.5 L409.9 195.6 L410.1 198.3 L410.3 200.7 L410.5 204.1 L410.7 206.8 L411.0 204.6 L411.2 201.6 L411.4 200.3 L411.6 200.1 L411.8 201.6 L412.0 203.6 L412.2 206.2 L412.4 209.2 L412.6 211.7 L412.8 214.6 L413.1 216.5 L413.3 221.1 L413.5 221.2 L413.8 222.0 L414.0 226.9 L414.2 229.9 L414.4 233.1 L414.6 236.2 L414.8 237.7 L415.0 240.1 L415.2 236.0 L415.4 234.8 L415.5 231.2 L415.7 228.6 L415.9 226.3 L416.1 225.6 L416.3 219.8 L416.5 217.3 L416.8 216.0 L417.0 216.1 L417.2 215.6 L417.4 215.1 L417.6 213.8 L417.8 214.3 L418.0 216.2 L418.2 216.4 L418.4 217.9 L418.6 219.0 L418.8 218.6 L418.9 216.4 L419.1 213.5 L419.3 212.3 L419.5 210.3 L419.7 213.1 L419.9 215.4 L420.1 218.0 L420.3 218.3 L420.5 216.0 L420.7 217.8 L420.9 218.8 L421.1 219.4 L421.3 218.3 L421.5 218.4 L421.7 218.2 L421.9 216.8 L422.1 215.2 L422.3 213.7 L422.5 214.6 L422.7 213.5 L422.9 210.1 L423.1 207.4 L423.3 205.3 L423.5 205.2 L423.7 204.4 L423.9 204.2 L424.0 203.2 L424.2 199.5 L424.4 200.2 L424.6 196.2 L424.8 193.9 L425.0 189.9 L425.2 190.6 L425.4 192.5 L425.6 194.6 L425.8 198.1 L426.0 197.0 L426.2 196.1 L426.4 193.2 L426.6 191.9 L426.8 191.7 L427.0 190.6 L427.2 187.9 L427.4 188.6 L427.6 185.0 L427.7 185.7 L428.0 184.8 L428.2 182.1 L428.4 179.4 L428.7 178.8 L428.9 178.3 L429.1 176.1 L429.3 184.4 L429.6 194.8 L429.8 203.6 L430.0 198.3 L430.2 195.4 L430.4 193.5 L430.6 192.5 L430.8 191.5 L431.0 189.4 L431.2 186.2 L431.4 184.3 L431.6 182.7 L431.8 182.0 L432.0 180.1 L432.3 178.5 L432.5 183.6 L432.7 186.6 L433.0 192.3 L433.2 188.5 L433.4 187.5 L433.6 183.0 L433.9 189.5 L434.1 195.1 L434.3 201.8 L434.6 208.0 L434.8 214.2 L435.0 219.1 L435.2 214.9 L435.5 209.9 L435.7 205.6 L435.9 204.6 L436.1 202.7 L436.3 200.2 L436.5 201.4 L436.7 201.2 L436.9 201.9 L437.1 203.2 L437.3 206.4 L437.5 207.3 L437.7 205.5 L437.9 206.0 L438.1 204.7 L438.2 204.5 L438.4 204.1 L438.6 206.0 L438.8 206.6 L439.0 211.0 L439.2 211.3 L439.4 212.8 L439.6 209.7 L439.8 206.4 L440.0 202.1 L440.2 200.0 L440.4 199.2 L440.6 198.2 L440.8 196.4 L441.0 195.4 L441.2 193.9 L441.4 194.6 L441.6 197.5 L441.8 196.3 L442.0 195.4 L442.1 195.4 L442.4 192.0 L442.6 188.6 L442.8 188.0 L443.0 185.2 L443.2 183.7 L443.4 183.5 L443.6 183.3 L443.8 180.2 L444.0 179.0 L444.2 177.4 L444.4 174.9 L444.6 174.0 L444.8 173.1 L445.0 171.5 L445.2 172.2 L445.4 171.5 L445.6 170.9 L445.8 171.1 L446.0 170.4 L446.2 171.0 L446.4 174.6 L446.6 176.0 L446.8 178.6 L446.9 178.8 L447.1 176.1 L447.4 173.9 L447.6 172.6 L447.8 171.5 L448.0 168.3 L448.2 165.6 L448.4 162.1 L448.6 160.3 L448.8 159.4 L449.0 158.4 L449.2 158.9 L449.4 159.4 L449.5 158.7 L449.7 154.6 L449.9 154.6 L450.1 151.5 L450.3 151.0 L450.5 151.0 L450.7 149.9 L450.9 147.4 L451.1 147.4 L451.2 147.0 L451.4 145.0 L451.6 144.7 L451.8 142.6 L452.0 140.4 L452.2 138.7 L452.4 138.5 L452.6 137.8 L452.8 136.8 L453.0 137.0 L453.2 135.5 L453.4 134.2 L453.6 132.8 L453.8 129.6 L454.0 129.6 L454.1 127.3 L454.3 127.7 L454.5 126.9 L454.7 127.6 L454.9 127.9 L455.1 127.7 L455.3 129.0 L455.5 128.7 L455.7 126.3 L455.9 124.6 L456.1 123.0 L456.3 120.7 L456.5 118.4 L456.8 114.6 L457.0 120.6 L457.2 126.2 L457.4 134.1 L457.5 141.2 L457.7 152.8 L457.9 165.2 L458.0 178.0 L458.2 182.8 L458.4 186.8 L458.6 192.9 L458.8 191.5 L459.1 189.0 L459.3 185.9 L459.5 183.8 L459.7 181.3 L459.9 180.5 L460.1 179.0 L460.3 172.7 L460.6 168.6 L460.8 165.0 L461.0 162.3 L461.2 160.1 L461.4 158.9 L461.6 156.1 L461.8 154.3 L462.0 153.5 L462.2 154.0 L462.4 156.9 L462.6 157.1 L462.8 159.9 L463.0 161.1 L463.2 159.9 L463.4 158.2 L463.6 156.0 L463.8 153.2 L464.0 154.6 L464.2 155.0 L464.4 157.2 L464.6 157.3 L464.8 155.4 L464.9 156.2 L465.1 155.2 L465.3 154.6 L465.5 154.3 L465.7 153.3 L465.9 153.0 L466.1 151.7 L466.3 149.0 L466.5 147.6 L466.6 146.1 L466.8 144.2 L467.0 142.6 L467.2 140.5 L467.4 137.8 L467.6 139.1 L467.8 140.1 L468.0 141.6 L468.2 142.1 L468.4 140.4 L468.6 139.8 L468.8 137.7 L469.0 137.4 L469.2 134.3 L469.4 131.6 L469.6 130.4 L469.8 128.4 L470.0 129.6 L470.2 129.5 L470.4 133.4 L470.6 133.6 L470.8 131.0 L471.0 127.6 L471.2 125.2 L471.4 125.7 L471.6 125.3 L471.8 124.6 L472.0 125.6 L472.2 126.0 L472.4 123.3 L472.7 121.3 L472.9 117.4 L473.1 116.7 L473.3 113.3 L473.5 111.9 L473.7 110.4 L473.9 111.3 L474.1 112.7 L474.3 112.6 L474.5 115.7 L474.7 120.3 L474.9 124.5 L475.1 129.5 L475.3 125.9 L475.5 121.6 L475.7 117.9 L475.9 115.1 L476.1 112.6 L476.3 112.2 L476.5 111.0" fill="none" stroke="#c00000" stroke-width="1.55" stroke-linejoin="round" stroke-linecap="round"/>
<path d="M538.2 295.8 L538.4 295.7 L538.6 299.3 L538.8 299.9 L539.0 300.8 L539.2 301.0 L539.4 303.2 L539.6 305.4 L539.9 305.9 L540.1 307.7 L540.3 309.0 L540.5 309.1 L540.7 310.8 L540.9 310.2 L541.1 308.4 L541.3 307.2 L541.5 307.4 L541.7 305.6 L541.8 305.3 L542.0 304.1 L542.2 304.9 L542.4 306.6 L542.6 306.7 L542.8 304.9 L543.1 304.1 L543.3 305.1 L543.5 305.6 L543.7 306.6 L543.9 307.9 L544.2 305.5 L544.4 307.7 L544.6 307.8 L544.8 307.9 L545.0 306.1 L545.2 306.0 L545.4 305.9 L545.6 304.2 L545.8 304.8 L546.0 303.6 L546.2 301.8 L546.5 299.4 L546.7 301.1 L546.9 303.3 L547.1 305.6 L547.3 305.6 L547.5 304.1 L547.7 304.7 L547.9 303.6 L548.1 303.5 L548.3 303.4 L548.5 304.6 L548.8 305.3 L549.0 305.4 L549.2 305.2 L549.4 304.7 L549.6 304.8 L549.9 304.6 L550.1 304.7 L550.3 305.2 L550.5 305.8 L550.7 306.8 L550.9 306.3 L551.1 308.1 L551.3 307.9 L551.4 306.8 L551.6 306.3 L551.8 306.6 L552.0 306.0 L552.2 306.0 L552.4 305.9 L552.7 306.4 L552.9 306.2 L553.1 306.9 L553.3 306.4 L553.5 307.4 L553.7 305.6 L554.0 306.0 L554.2 305.7 L554.4 305.8 L554.6 306.6 L554.8 307.6 L555.0 307.0 L555.2 306.4 L555.4 306.7 L555.6 307.6 L555.8 307.6 L555.9 307.7 L556.1 309.4 L556.3 309.3 L556.5 307.5 L556.8 306.7 L557.0 307.0 L557.2 306.2 L557.4 305.6 L557.6 306.7 L557.9 307.4 L558.1 306.4 L558.3 305.2 L558.5 304.8 L558.7 303.9 L558.9 301.8 L559.1 300.6 L559.3 299.6 L559.5 300.4 L559.8 299.4 L560.0 299.5 L560.2 297.8 L560.4 296.6 L560.6 295.5 L560.8 292.5 L561.0 293.5 L561.2 292.6 L561.4 291.2 L561.5 293.2 L561.7 290.3 L561.9 289.7 L562.1 288.8 L562.2 289.3 L562.4 287.7 L562.6 285.6 L562.8 284.4 L563.0 281.8 L563.2 281.1 L563.3 282.1 L563.5 282.6 L563.7 284.1 L563.9 286.2 L564.1 289.4 L564.3 291.7 L564.5 290.2 L564.7 290.9 L564.9 286.5 L565.0 286.3 L565.2 285.1 L565.4 282.0 L565.7 279.8 L565.9 277.0 L566.1 274.4 L566.3 273.0 L566.5 270.3 L566.7 267.5 L566.8 262.9 L567.0 261.4 L567.2 259.6 L567.4 258.5 L567.6 259.3 L567.8 258.8 L568.0 257.8 L568.2 255.3 L568.4 251.5 L568.6 250.3 L568.8 246.3 L569.0 246.1 L569.2 247.7 L569.4 247.5 L569.6 247.9 L569.8 249.0 L570.0 251.8 L570.1 248.5 L570.3 247.3 L570.5 245.2 L570.7 244.7 L570.9 242.6 L571.1 244.4 L571.3 246.5 L571.5 246.6 L571.7 248.2 L571.8 251.0 L572.0 254.4 L572.2 255.6 L572.4 257.3 L572.6 258.2 L572.8 257.8 L573.0 258.7 L573.2 259.0 L573.4 259.3 L573.5 256.2 L573.7 255.7 L573.9 254.8 L574.1 253.3 L574.3 253.3 L574.5 253.8 L574.6 254.1 L574.8 254.2 L575.0 252.2 L575.2 250.4 L575.4 249.4 L575.6 246.3 L575.8 246.2 L575.9 245.2 L576.1 246.0 L576.3 247.2 L576.5 249.1 L576.7 249.7 L576.9 252.7 L577.1 250.7 L577.2 249.3 L577.4 248.9 L577.6 247.8 L577.8 246.8 L578.0 245.4 L578.2 244.6 L578.3 246.3 L578.5 247.5 L578.7 248.5 L578.9 247.3 L579.1 248.9 L579.3 248.5 L579.5 248.0 L579.7 246.8 L579.9 247.5 L580.1 245.8 L580.3 246.7 L580.5 247.5 L580.8 247.3 L581.0 246.1 L581.2 245.9 L581.4 246.1 L581.6 248.1 L581.8 248.0 L582.0 250.0 L582.1 249.4 L582.3 249.3 L582.5 249.6 L582.7 249.2 L582.9 249.9 L583.1 249.3 L583.2 246.6 L583.4 247.5 L583.6 248.2 L583.8 247.1 L584.0 246.1 L584.2 244.0 L584.4 242.2 L584.6 239.3 L584.7 240.2 L584.9 236.7 L585.1 235.1 L585.3 232.3 L585.5 230.6 L585.7 230.2 L585.9 228.0 L586.1 226.3 L586.3 226.8 L586.5 230.8 L586.7 234.2 L586.9 235.4 L587.1 237.3 L587.3 239.4 L587.4 238.2 L587.6 239.1 L587.8 239.0 L588.0 237.4 L588.2 236.5 L588.4 236.2 L588.6 234.5 L588.8 234.2 L588.9 236.8 L589.1 238.8 L589.3 239.6 L589.5 238.6 L589.7 239.1 L589.9 239.5 L590.1 239.1 L590.2 236.9 L590.4 236.0 L590.6 235.6 L590.8 235.5 L591.0 234.6 L591.2 233.3 L591.3 234.6 L591.5 233.5 L591.7 231.7 L591.9 232.2 L592.1 233.1 L592.3 232.9 L592.5 230.6 L592.6 232.6 L592.8 233.2 L593.0 236.9 L593.2 239.4 L593.4 241.2 L593.6 243.6 L593.8 245.3 L594.0 250.5 L594.2 251.4 L594.4 251.4 L594.5 249.3 L594.7 248.9 L594.9 246.0 L595.1 246.8 L595.3 246.6 L595.5 247.5 L595.6 248.7 L595.8 249.9 L596.0 247.0 L596.2 246.5 L596.4 248.0 L596.6 248.1 L596.8 248.4 L597.0 249.2 L597.2 247.6 L597.4 246.8 L597.6 245.6 L597.8 245.8 L598.0 249.3 L598.2 249.2 L598.4 251.2 L598.6 252.8 L598.8 250.9 L599.0 247.4 L599.2 246.2 L599.3 243.1 L599.5 242.4 L599.7 241.4 L599.9 239.8 L600.1 240.6 L600.3 240.1 L600.5 240.2 L600.7 240.5 L600.8 239.6 L601.0 239.6 L601.2 240.2 L601.4 238.8 L601.6 237.4 L601.8 237.5 L601.9 235.7 L602.1 239.6 L602.3 240.0 L602.5 237.9 L602.7 238.5 L602.9 237.6 L603.1 236.5 L603.2 236.6 L603.4 235.2 L603.6 236.3 L603.8 236.8 L604.0 237.6 L604.2 239.6 L604.4 241.4 L604.5 241.9 L604.7 244.8 L604.9 245.8 L605.1 246.4 L605.3 248.3 L605.5 249.6 L605.6 249.8 L605.8 249.8 L606.0 251.6 L606.2 253.1 L606.4 254.5 L606.6 256.4 L606.8 257.3 L607.0 254.7 L607.2 253.7 L607.4 253.7 L607.6 251.4 L607.7 248.7 L607.9 246.5 L608.1 246.1 L608.3 243.7 L608.5 250.2 L608.7 257.7 L608.9 262.4 L609.1 262.2 L609.3 263.1 L609.5 268.0 L609.7 272.0 L609.9 275.2 L610.1 272.7 L610.3 271.1 L610.5 268.3 L610.6 267.5 L610.8 265.6 L611.0 266.8 L611.3 268.6 L611.5 269.3 L611.7 267.9 L611.9 267.4 L612.0 268.3 L612.2 267.6 L612.4 269.4 L612.6 268.3 L612.8 267.7 L613.0 268.8 L613.2 269.2 L613.4 272.0 L613.6 274.6 L613.8 274.9 L614.0 277.4 L614.2 280.4 L614.4 282.0 L614.6 281.1 L614.8 284.2 L615.0 287.1 L615.2 288.2 L615.4 284.8 L615.6 282.1 L615.8 279.3 L616.1 276.0 L616.3 276.9 L616.5 280.1 L616.7 282.4 L616.9 284.1 L617.1 282.4 L617.3 284.1 L617.5 282.4 L617.7 279.8 L617.9 280.4 L618.1 279.8 L618.3 277.8 L618.5 277.9 L618.7 279.7 L618.9 280.8 L619.1 282.3 L619.3 286.7 L619.5 287.1 L619.8 290.3 L620.0 289.7 L620.2 291.2 L620.4 291.4 L620.6 294.1 L620.8 293.6 L621.0 294.2 L621.2 295.2 L621.4 298.7 L621.6 300.0 L621.8 302.8 L622.0 303.3 L622.2 302.8 L622.4 302.3 L622.6 304.0 L622.8 306.3 L623.0 306.8 L623.3 309.0 L623.5 309.3 L623.7 307.6 L623.9 307.0 L624.1 306.6 L624.3 304.9 L624.5 305.1 L624.7 307.4 L624.9 307.9 L625.1 308.1 L625.3 305.7 L625.5 304.8 L625.7 303.3 L625.9 302.0 L626.1 304.7 L626.3 307.5 L626.5 311.9 L626.7 312.3 L627.0 313.4 L627.2 314.5 L627.4 314.7 L627.6 315.1 L627.8 313.0 L628.0 310.5 L628.2 308.9 L628.4 305.3 L628.6 303.8 L628.8 298.5 L629.0 297.5 L629.2 298.6 L629.4 302.5 L629.6 309.1 L629.8 310.4 L630.0 314.1 L630.2 312.9 L630.4 310.4 L630.7 310.9 L630.9 308.8 L631.1 309.6 L631.3 306.2 L631.5 306.2 L631.7 304.5 L631.9 304.6 L632.1 302.9 L632.3 300.8 L632.5 301.7 L632.7 300.2 L632.9 299.4 L633.1 297.2 L633.3 296.9 L633.5 297.3 L633.7 299.3 L633.9 299.9 L634.2 303.5 L634.4 299.4 L634.6 298.9 L634.8 295.5 L635.0 293.9 L635.2 292.5 L635.4 289.3 L635.6 287.6 L635.8 283.2 L636.0 279.8 L636.2 275.1 L636.4 274.4 L636.6 269.6 L636.8 266.8 L637.0 265.5 L637.2 261.0 L637.4 261.1 L637.6 260.9 L637.9 259.3 L638.1 257.2 L638.3 255.4 L638.5 254.8 L638.7 253.4 L638.9 250.7 L639.1 247.8 L639.3 251.4 L639.5 252.2 L639.7 254.6 L639.9 254.6 L640.1 256.5 L640.3 256.6 L640.5 258.5 L640.7 262.0 L640.9 266.8 L641.1 268.8 L641.4 268.9 L641.6 269.1 L641.8 267.2 L642.0 267.6 L642.2 267.8 L642.4 265.6 L642.6 267.4 L642.8 269.3 L643.0 271.5 L643.2 274.3 L643.4 273.3 L643.6 271.3 L643.8 270.5 L644.0 270.0 L644.2 268.9 L644.4 269.0 L644.6 272.7 L644.8 272.7 L645.1 273.2 L645.3 270.0 L645.5 268.2 L645.7 266.5 L645.9 268.7 L646.1 270.7 L646.3 271.3 L646.5 271.7 L646.7 273.1 L646.9 273.8 L647.1 274.3 L647.3 274.7 L647.5 277.2 L647.7 277.8 L647.9 279.7 L648.1 280.6 L648.3 280.6 L648.5 280.5 L648.8 282.6 L649.0 283.9 L649.2 284.0 L649.4 282.6 L649.6 282.6 L649.8 282.6 L650.0 280.5 L650.2 280.0 L650.4 276.9 L650.6 275.8 L650.8 273.5 L651.0 274.4 L651.2 272.9 L651.4 273.0 L651.6 271.3 L651.8 270.6 L652.0 269.8 L652.3 269.7 L652.5 273.1 L652.7 272.5 L652.9 273.4 L653.1 275.7 L653.3 277.5 L653.5 279.3 L653.7 279.5 L653.9 282.0 L654.1 278.7 L654.3 278.0 L654.5 277.2 L654.7 277.1 L654.9 277.8 L655.1 275.5 L655.3 275.7 L655.5 274.5 L655.7 274.8 L656.0 274.4 L656.2 270.4 L656.4 271.2 L656.6 269.1 L656.8 268.5 L657.0 267.4 L657.2 265.6 L657.4 265.8 L657.6 267.4 L657.8 268.5 L658.0 270.0 L658.2 271.4 L658.4 271.2 L658.6 273.5 L658.8 275.3 L659.0 276.1 L659.2 277.3 L659.5 277.1 L659.7 277.8 L659.9 278.0 L660.1 278.9 L660.3 280.6 L660.5 282.4 L660.7 283.4 L660.9 284.5 L661.1 286.4 L661.3 286.8 L661.5 285.0 L661.7 282.0 L661.9 280.9 L662.1 277.8 L662.3 278.9 L662.5 281.7 L662.7 283.7 L662.9 285.9 L663.2 285.2 L663.4 283.2 L663.6 280.8 L663.8 278.4 L664.0 276.8 L664.2 278.3 L664.4 276.5 L664.6 274.9 L664.8 274.4 L665.0 272.3 L665.2 269.0 L665.4 270.7 L665.6 272.0 L665.8 271.7 L666.0 271.8 L666.2 271.8 L666.4 271.0 L666.6 270.8 L666.9 271.5 L667.1 271.5 L667.3 270.0 L667.5 268.2 L667.7 266.5 L667.9 265.2 L668.1 267.5 L668.3 268.1 L668.5 269.0 L668.7 267.8 L668.9 271.2 L669.1 273.8 L669.3 275.7 L669.5 278.2 L669.7 275.8 L669.9 275.1 L670.1 272.5 L670.4 272.5 L670.6 273.3 L670.8 271.3 L671.0 271.1 L671.2 270.1 L671.4 269.6 L671.6 269.4 L671.8 270.4 L672.0 269.3 L672.2 272.0 L672.4 271.5 L672.6 271.8 L672.8 272.0 L673.0 272.0 L673.2 272.8 L673.4 274.9 L673.6 271.7 L673.8 272.6 L674.1 272.3 L674.3 273.0 L674.5 273.9 L674.7 274.2 L674.9 275.3 L675.1 275.9 L675.3 276.6 L675.5 277.9 L675.7 278.3 L675.9 279.4 L676.1 281.1 L676.3 282.2 L676.5 283.7 L676.7 284.3 L676.9 285.4 L677.1 285.0 L677.3 286.0 L677.5 288.4 L677.8 290.0 L678.0 289.9 L678.2 290.8 L678.4 291.2 L678.6 291.1 L678.8 291.1 L679.0 292.3 L679.2 294.2 L679.4 290.8 L679.6 292.4 L679.8 294.0 L680.0 294.4 L680.2 294.3 L680.4 293.6 L680.6 294.3 L680.8 294.5 L681.0 296.8 L681.3 296.5 L681.5 296.1 L681.7 294.6 L681.9 294.3 L682.1 293.1 L682.3 291.6 L682.5 291.8 L682.7 291.8 L682.9 290.4 L683.1 288.9 L683.3 288.0 L683.5 286.6 L683.7 286.0 L683.9 286.3 L684.1 286.0 L684.3 284.1 L684.5 285.1 L684.7 283.5 L685.0 281.6 L685.2 281.1 L685.4 281.0 L685.6 279.9 L685.8 279.7 L686.0 279.8 L686.2 280.0 L686.4 280.2 L686.6 281.0 L686.8 281.6 L687.0 282.3 L687.2 283.3 L687.4 281.8 L687.6 282.2 L687.8 283.5 L688.0 282.1 L688.2 281.1 L688.5 279.9 L688.7 279.9 L688.9 279.0 L689.1 277.9 L689.3 277.4 L689.5 277.2 L689.7 276.4 L689.9 276.6 L690.1 276.3 L690.3 276.2 L690.5 275.0 L690.7 273.8 L690.9 274.1 L691.1 273.3 L691.3 274.0 L691.5 272.4 L691.7 271.8 L691.9 272.2 L692.2 274.0 L692.4 274.7 L692.6 274.9 L692.8 275.0 L693.0 275.4 L693.2 275.8 L693.4 276.4 L693.6 276.8 L693.8 276.5 L694.0 275.6 L694.2 276.1 L694.4 277.5 L694.6 278.2 L694.8 278.6 L695.0 278.5 L695.2 275.9 L695.4 274.9 L695.6 274.1 L695.9 272.3 L696.1 273.7 L696.3 274.6 L696.5 274.1 L696.7 274.5 L696.9 273.6 L697.1 271.3 L697.3 272.1 L697.5 271.4 L697.7 271.1 L697.9 271.4 L698.1 269.6 L698.3 270.3 L698.5 269.3 L698.7 268.2 L698.9 268.5 L699.1 267.5 L699.4 267.9 L699.6 269.5 L699.8 270.8 L700.0 272.2 L700.2 272.7 L700.4 272.8 L700.6 272.7 L700.8 273.6 L701.0 271.4 L701.2 270.0 L701.4 267.7 L701.6 267.8 L701.8 269.3 L702.0 269.8 L702.2 268.9 L702.4 270.6 L702.6 269.5 L702.8 268.5 L703.1 267.6 L703.3 268.3 L703.5 267.8 L703.7 268.7 L703.9 269.7 L704.1 269.6 L704.3 270.4 L704.5 269.5 L704.7 269.3 L704.9 269.4 L705.1 270.4 L705.3 269.6 L705.5 270.7 L705.7 269.2 L705.9 270.5 L706.1 271.8 L706.3 273.2 L706.6 274.4 L706.8 275.3 L707.0 280.2 L707.2 282.3 L707.4 282.5 L707.6 284.7 L707.8 284.8 L708.0 288.0 L708.2 289.2 L708.4 285.9 L708.6 285.6 L708.8 284.7 L709.0 285.2 L709.2 285.0 L709.4 283.6 L709.6 283.8 L709.8 282.1 L710.0 282.2 L710.3 281.5 L710.5 281.0 L710.7 281.4 L710.9 280.2 L711.1 278.4 L711.3 278.0 L711.5 277.8 L711.7 278.7 L711.9 278.3 L712.1 277.7 L712.3 276.1 L712.5 276.8 L712.7 276.1 L712.9 276.7 L713.1 276.3 L713.3 275.9 L713.5 275.9 L713.7 275.5 L714.0 275.3 L714.2 275.7 L714.4 275.9 L714.6 275.6 L714.8 275.2 L715.0 275.0 L715.2 274.7 L715.4 276.6 L715.6 276.4 L715.8 276.2 L716.0 275.4 L716.2 274.1 L716.4 275.1 L716.6 275.0 L716.8 274.2 L717.0 274.2 L717.2 273.9 L717.5 273.7 L717.7 274.5 L717.9 273.8 L718.1 272.6 L718.3 273.7 L718.5 274.5 L718.7 276.7 L718.9 277.0 L719.1 276.8 L719.3 277.9 L719.5 278.2 L719.7 278.2 L719.9 279.8 L720.1 280.6 L720.4 280.7 L720.6 278.8 L720.8 279.7 L721.0 280.4 L721.2 281.8 L721.4 281.9 L721.6 282.8 L721.8 285.6 L722.0 285.6 L722.2 286.7 L722.4 287.9 L722.6 286.0 L722.8 286.8 L723.0 286.4 L723.2 288.2 L723.4 286.4 L723.6 286.5 L723.8 287.3 L724.1 287.5 L724.3 288.7 L724.5 287.3 L724.7 286.0 L724.9 285.5 L725.1 284.0 L725.3 284.2 L725.5 285.1 L725.7 284.1 L725.9 284.3 L726.1 284.3 L726.3 286.6 L726.5 286.7 L726.7 287.5 L726.9 288.0 L727.1 289.8 L727.3 289.6 L727.6 290.1 L727.8 291.6 L728.0 293.1 L728.2 291.2 L728.4 291.6 L728.6 292.1 L728.8 293.5 L729.0 293.8 L729.2 292.2 L729.4 292.2 L729.6 291.2 L729.8 293.1 L730.0 291.4 L730.2 292.2 L730.4 292.1 L730.6 291.8 L730.8 290.5 L731.0 288.6 L731.3 287.7 L731.5 286.5 L731.7 286.1 L731.9 286.4 L732.1 286.4 L732.3 286.6 L732.5 286.6 L732.7 286.5 L732.9 288.2 L733.1 288.4 L733.3 288.3 L733.5 289.0 L733.7 288.0 L733.9 287.5 L734.1 287.7 L734.3 286.6 L734.5 284.7 L734.7 285.8 L735.0 285.0 L735.2 285.0 L735.4 284.6 L735.6 283.9 L735.8 284.0 L736.0 284.2 L736.2 283.9 L736.4 283.1 L736.6 283.2 L736.8 283.8 L737.0 283.6 L737.2 283.1 L737.4 284.2 L737.6 284.7 L737.8 283.3 L738.0 282.6 L738.2 282.7 L738.5 281.8 L738.7 281.2 L738.9 280.4 L739.1 280.2 L739.3 281.1 L739.5 282.2 L739.7 281.6 L739.9 282.1 L740.1 281.5 L740.3 282.3 L740.5 283.0 L740.7 283.8 L740.9 284.2 L741.1 284.0 L741.3 283.2 L741.5 283.8 L741.7 282.6 L741.9 280.7 L742.2 281.1 L742.4 280.6 L742.6 282.0 L742.8 280.1 L743.0 278.4 L743.2 279.3 L743.4 281.3 L743.6 281.7 L743.8 282.1 L744.0 284.2 L744.2 283.7 L744.4 282.1 L744.6 281.3 L744.8 281.1 L745.0 280.5 L745.2 280.8 L745.4 279.2 L745.7 280.0 L745.9 277.7 L746.1 275.9 L746.3 275.0 L746.5 273.6 L746.7 274.8 L746.9 277.1 L747.1 278.1 L747.3 280.2 L747.5 283.0 L747.7 283.5 L747.9 284.3 L748.1 286.0 L748.3 287.1 L748.5 286.0 L748.7 286.7 L748.9 287.7 L749.1 287.5 L749.4 287.0 L749.6 287.5 L749.8 288.6 L750.0 287.1 L750.2 287.6 L750.4 288.4 L750.6 288.9 L750.8 287.1 L751.0 286.1 L751.2 285.9 L751.4 286.2 L751.6 287.7 L751.8 288.0 L752.0 288.4 L752.2 290.4 L752.4 291.1 L752.6 292.0 L752.8 292.5 L753.1 293.0 L753.3 291.8 L753.5 291.2 L753.7 290.4 L753.9 289.6 L754.1 289.8 L754.3 288.7 L754.5 288.9 L754.7 288.8 L754.9 288.1 L755.1 287.0 L755.3 287.6 L755.5 287.4 L755.7 287.5 L755.9 287.9 L756.1 288.1 L756.3 287.3 L756.6 287.6 L756.8 289.6 L757.0 289.8 L757.2 289.2 L757.4 290.5 L757.6 291.1 L757.8 290.5 L758.0 291.7 L758.2 291.6 L758.4 289.8 L758.6 289.3 L758.8 288.7 L759.0 288.4 L759.2 288.7 L759.4 288.7 L759.6 289.3 L759.8 290.1 L760.0 290.6 L760.3 290.1 L760.5 290.3 L760.7 292.0 L760.9 292.2 L761.1 291.9 L761.3 293.1 L761.5 292.9 L761.7 293.0 L761.9 293.0 L762.1 292.7 L762.3 292.5 L762.5 292.0 L762.7 292.0 L762.9 291.5 L763.1 292.4 L763.3 292.8 L763.5 293.1 L763.8 292.6 L764.0 293.0 L764.2 293.0 L764.4 293.3 L764.6 293.9 L764.8 293.8 L765.0 294.1 L765.2 293.5 L765.4 293.5 L765.6 293.2 L765.8 293.7 L766.0 294.4 L766.2 295.1 L766.4 294.7 L766.6 295.7 L766.8 295.1 L767.0 295.9 L767.2 295.4 L767.5 294.8 L767.7 294.6 L767.9 293.8 L768.1 294.7 L768.3 295.4 L768.5 296.1 L768.7 296.6 L768.9 297.0 L769.1 295.7 L769.3 296.4 L769.5 297.1 L769.7 297.6 L769.9 298.1 L770.1 297.7 L770.3 298.0 L770.5 298.1 L770.7 299.0 L770.9 298.6 L771.2 298.4 L771.4 298.1 L771.6 297.9 L771.8 298.1 L772.0 299.6 L772.2 298.6 L772.4 298.5 L772.6 297.7 L772.8 298.1 L773.0 298.5 L773.2 299.7 L773.4 299.3 L773.6 299.7 L773.8 299.6 L774.0 300.5 L774.2 300.8 L774.4 301.2 L774.7 301.1 L774.9 301.5 L775.1 301.1 L775.3 300.4 L775.5 301.2 L775.7 302.0 L775.9 302.1 L776.1 302.0 L776.3 301.2 L776.5 300.1 L776.7 300.2 L776.9 300.9 L777.1 300.9 L777.3 300.1 L777.5 300.5 L777.7 299.3 L777.9 298.2 L778.1 299.0 L778.4 297.7 L778.6 297.7 L778.8 298.5 L779.0 297.3 L779.2 296.5 L779.4 295.8 L779.6 294.9 L779.8 295.4 L780.0 294.6 L780.2 294.0 L780.4 294.0 L780.6 294.5 L780.8 293.9 L781.0 291.0 L781.2 290.1 L781.4 290.1 L781.6 290.7 L781.8 289.2 L782.1 288.5 L782.3 286.3 L782.5 284.7 L782.7 284.0 L782.9 283.0 L783.1 282.9 L783.3 283.3 L783.5 282.1 L783.7 280.9 L783.9 279.3 L784.1 279.2 L784.3 279.7 L784.5 280.5 L784.7 281.8 L784.9 283.4 L785.1 283.2 L785.3 284.3 L785.6 283.5 L785.8 284.1 L786.0 285.0 L786.2 284.4 L786.4 283.7 L786.6 283.8 L786.8 284.1 L787.0 282.9 L787.2 283.3 L787.4 283.5 L787.6 281.9 L787.8 281.3 L788.0 282.1 L788.2 282.6 L788.4 282.8 L788.6 282.5 L788.8 282.8 L789.0 282.0 L789.3 283.1 L789.5 281.5 L789.7 280.6 L789.9 280.0 L790.1 279.1 L790.3 278.9 L790.5 279.2 L790.7 279.5 L790.9 278.6 L791.1 278.1 L791.3 276.9 L791.5 276.1 L791.7 276.7 L791.9 275.6 L792.1 275.9 L792.3 276.2 L792.5 275.5 L792.8 275.6 L793.0 275.9 L793.2 275.5 L793.4 276.0 L793.6 277.6 L793.8 277.9 L794.0 278.9 L794.2 279.5 L794.4 279.9 L794.6 279.6 L794.8 280.1 L795.0 279.6 L795.2 279.8 L795.4 280.0 L795.6 280.3 L795.8 280.6 L796.0 280.1 L796.2 280.6 L796.5 279.8 L796.7 280.2 L796.9 279.0 L797.1 279.2 L797.3 279.3 L797.5 279.8 L797.7 279.8 L797.9 279.0 L798.1 279.7 L798.3 280.5 L798.5 281.3 L798.7 280.3 L798.9 279.2 L799.1 278.4 L799.3 277.0 L799.5 276.3 L799.7 275.3 L799.9 275.1 L800.2 274.5 L800.4 273.4 L800.6 271.4 L800.8 272.4 L801.0 271.2 L801.2 270.5 L801.4 270.2 L801.6 270.4 L801.8 269.7 L802.0 270.1 L802.2 269.7 L802.4 268.2 L802.6 268.0 L802.8 267.5 L803.0 267.7 L803.2 267.9 L803.4 268.3 L803.7 268.3 L803.9 266.5 L804.1 267.6 L804.3 267.1 L804.5 265.9 L804.7 265.8 L804.9 266.0 L805.1 266.1 L805.3 265.0 L805.5 264.4 L805.7 263.5 L805.9 265.2 L806.1 265.8 L806.3 267.9 L806.5 269.1 L806.7 270.2 L806.9 269.2 L807.1 267.6 L807.4 269.2 L807.6 269.0 L807.8 268.4 L808.0 266.6 L808.2 265.0 L808.4 264.8 L808.6 263.6 L808.8 264.0 L809.0 263.4 L809.2 264.1 L809.4 262.6 L809.6 262.3 L809.8 262.0 L810.0 261.8 L810.2 261.4 L810.4 261.2 L810.6 260.9 L810.9 260.8 L811.1 261.6 L811.3 262.3 L811.5 264.7 L811.7 265.9 L811.9 265.2 L812.1 264.7 L812.3 265.0 L812.5 264.3 L812.7 261.4 L812.9 260.0 L813.1 259.4 L813.3 259.6 L813.5 259.0 L813.7 258.1 L813.9 257.3 L814.1 257.7 L814.3 259.8 L814.6 261.0 L814.8 261.4 L815.0 263.1 L815.2 262.8 L815.4 260.1 L815.6 259.8 L815.8 257.3 L816.0 256.9 L816.2 256.1 L816.4 255.2 L816.5 251.5 L816.7 249.5 L816.9 246.9 L817.1 244.8 L817.3 241.9 L817.5 238.6 L817.7 237.9 L817.9 236.7 L818.1 232.7 L818.3 232.9 L818.5 232.7 L818.7 229.5 L818.9 227.8 L819.1 225.2 L819.3 224.0 L819.5 221.9 L819.7 221.0 L820.0 219.3 L820.2 216.9 L820.4 217.0 L820.6 214.4 L820.8 213.0 L821.0 212.5 L821.2 211.6 L821.4 210.9 L821.6 213.5 L821.8 215.5 L822.0 217.4 L822.2 218.6 L822.4 219.9 L822.6 221.8 L822.8 224.1 L823.0 226.6 L823.2 223.5 L823.4 222.9 L823.6 221.2 L823.8 219.6 L824.0 218.3 L824.2 215.6 L824.4 213.5 L824.6 212.2 L824.8 208.9 L825.0 206.5 L825.2 202.6 L825.4 192.7 L825.6 193.2 L825.8 193.9 L826.0 191.8 L826.2 191.8 L826.5 190.4 L826.7 191.6 L826.9 192.4 L827.1 190.6 L827.3 189.1 L827.6 188.9 L827.8 188.0 L828.0 186.8 L828.2 187.8 L828.4 188.2 L828.6 190.3 L828.8 190.9 L829.0 193.9 L829.2 195.0 L829.4 201.8 L829.6 207.9 L829.8 205.0 L830.0 202.9 L830.2 200.5 L830.4 198.2 L830.6 196.0 L830.8 192.6 L831.0 188.5 L831.2 186.3 L831.4 186.6 L831.6 184.7 L831.7 182.2 L831.9 179.1 L832.1 177.3 L832.4 176.6 L832.6 174.5 L832.8 170.6 L833.0 169.0 L833.2 170.6 L833.4 169.0 L833.6 168.4 L833.8 170.1 L834.0 169.2 L834.2 167.7 L834.4 168.2 L834.6 168.2 L834.8 166.3 L835.0 164.0 L835.2 165.4 L835.4 162.0 L835.6 158.8 L835.8 155.3 L836.1 154.5 L836.3 153.4 L836.5 151.4 L836.7 150.8 L836.9 149.0 L837.1 149.9 L837.3 151.8 L837.5 152.3 L837.7 154.4 L837.9 157.7 L838.2 160.3 L838.4 161.7 L838.6 165.5 L838.8 171.3 L839.1 175.2 L839.3 174.3 L839.4 174.9 L839.6 176.6 L839.8 178.9 L840.0 180.0 L840.2 179.1 L840.4 181.8 L840.6 180.7 L840.9 181.8 L841.1 182.6 L841.3 183.1 L841.5 187.3 L841.7 187.4 L841.9 188.0 L842.1 189.0 L842.3 197.6 L842.5 202.5 L842.7 199.4 L842.9 198.5 L843.1 202.3 L843.4 206.4 L843.6 209.2 L843.8 210.3 L844.0 212.3 L844.2 213.4 L844.4 215.8 L844.6 216.7 L844.8 219.3 L845.0 219.4 L845.2 220.0 L845.5 220.3 L845.7 219.7 L845.9 219.5 L846.1 219.2 L846.3 218.4 L846.5 216.3 L846.7 218.4 L846.9 215.9 L847.1 211.8 L847.3 211.5 L847.5 207.1 L847.7 206.8 L847.9 205.7 L848.1 203.9 L848.3 204.1 L848.5 202.3 L848.7 198.1 L848.9 195.3 L849.1 193.0 L849.4 192.5 L849.6 191.8 L849.8 192.3 L850.0 195.8 L850.2 197.4 L850.4 197.9 L850.6 199.1 L850.8 202.2 L851.0 205.5 L851.2 205.8 L851.4 208.0 L851.6 209.6 L851.8 209.8 L852.0 211.8 L852.2 210.5 L852.4 211.4 L852.7 209.5 L852.9 206.1 L853.1 206.0 L853.3 206.9 L853.5 205.6 L853.7 202.4 L853.9 199.6 L854.1 199.4 L854.3 197.6 L854.6 196.5 L854.8 194.2 L854.9 192.0 L855.1 190.1 L855.3 187.8 L855.5 186.5 L855.7 184.6 L855.9 183.8 L856.1 183.5 L856.3 184.2 L856.6 184.2 L856.8 183.8 L857.0 181.8 L857.2 181.2 L857.4 182.5 L857.6 182.2 L857.8 182.6 L858.0 183.2 L858.2 178.9 L858.4 180.0 L858.6 178.5 L858.8 176.3 L859.0 173.3 L859.2 173.8 L859.4 173.0 L859.6 171.5 L859.8 171.8 L860.0 169.5 L860.3 168.7 L860.5 168.1 L860.7 168.8 L860.9 169.3 L861.1 170.5 L861.3 173.0 L861.5 176.7 L861.7 181.3 L861.9 183.6 L862.1 188.2 L862.3 185.7 L862.5 184.5 L862.7 183.2 L862.9 181.7 L863.1 178.6 L863.3 178.0 L863.5 175.6 L863.8 176.5 L864.0 171.3 L864.2 170.4 L864.4 167.9 L864.6 166.3 L864.8 165.9 L865.0 163.8 L865.2 162.2 L865.4 161.4 L865.6 160.0 L865.8 159.1 L866.0 160.4 L866.2 160.8 L866.4 160.2 L866.6 160.5 L866.8 159.9 L867.0 158.4 L867.2 155.4 L867.5 155.1 L867.7 155.1 L867.9 155.7 L868.1 154.3 L868.3 154.5 L868.5 153.0 L868.7 152.4 L868.9 152.3 L869.1 150.2 L869.3 149.3 L869.5 148.4 L869.7 149.1 L869.9 150.3 L870.1 151.2 L870.3 151.0 L870.5 149.2 L870.7 150.4 L870.9 149.2 L871.2 146.9 L871.4 149.2 L871.6 149.2 L871.8 149.2 L872.0 147.8 L872.2 148.0 L872.4 147.6 L872.6 146.0 L872.8 145.5 L873.0 146.0 L873.2 146.4 L873.4 147.1 L873.6 151.2 L873.8 151.4 L874.0 152.1 L874.2 155.7 L874.4 155.3 L874.7 156.8 L874.9 158.4 L875.1 160.2 L875.3 160.2 L875.5 162.9 L875.7 164.1 L875.9 166.0 L876.1 166.1 L876.3 165.5 L876.5 168.2 L876.7 170.3 L876.9 171.7 L877.1 173.9 L877.3 174.8 L877.5 176.6 L877.7 177.3 L877.9 173.8 L878.1 172.2 L878.4 172.5 L878.6 170.5 L878.8 168.8 L879.0 167.3 L879.2 165.3 L879.4 164.1 L879.6 162.0 L879.8 161.8 L880.0 159.3 L880.2 156.8 L880.4 156.5 L880.6 154.9 L880.8 153.6 L881.0 154.1 L881.2 152.8 L881.4 152.4 L881.6 152.5 L881.8 151.6 L882.1 151.5 L882.3 150.6 L882.5 150.9 L882.7 149.7 L882.9 150.5 L883.1 150.9 L883.3 151.3 L883.5 152.7 L883.7 154.2 L883.9 155.1 L884.1 157.7 L884.3 159.6 L884.5 156.1 L884.7 152.4 L884.9 149.2 L885.1 146.6 L885.3 146.2 L885.5 145.7 L885.7 143.9 L885.9 143.2 L886.1 141.7 L886.3 142.6 L886.5 144.2 L886.7 143.1 L886.9 141.4 L887.1 140.6 L887.3 139.7 L887.5 134.7 L887.7 134.3 L887.9 131.6 L888.1 128.5 L888.3 128.1 L888.5 125.0 L888.7 122.8 L888.9 128.2 L889.1 129.7 L889.3 135.2 L889.5 134.5 L889.7 133.0 L889.9 130.6 L890.1 129.9 L890.4 126.3 L890.6 126.0 L890.8 128.6 L891.0 128.7 L891.2 128.0 L891.4 127.8 L891.6 124.9 L891.8 124.1 L892.0 122.0 L892.2 123.8 L892.4 123.5 L892.6 124.8 L892.8 123.9 L893.0 122.2 L893.2 119.2 L893.4 117.1 L893.6 115.1 L893.8 113.7 L894.1 112.8 L894.3 112.6 L894.5 111.2 L894.7 110.0 L894.9 109.6 L895.1 107.9 L895.3 108.8 L895.5 112.8 L895.7 115.3 L895.9 115.8 L896.1 118.9 L896.3 121.7 L896.5 122.7 L896.7 124.9 L896.9 125.4 L897.1 127.9 L897.3 131.9 L897.5 135.4 L897.8 138.3 L898.0 142.1 L898.2 146.1 L898.4 150.7 L898.6 153.5 L898.9 158.2 L899.1 158.2 L899.3 160.9 L899.5 164.2 L899.7 164.1 L899.9 162.8 L900.1 161.4 L900.3 161.7 L900.5 160.8 L900.7 164.8 L900.9 166.7 L901.1 168.6 L901.3 170.9 L901.5 174.0 L901.7 179.4 L901.9 180.6 L902.1 178.2 L902.3 173.7 L902.5 173.0 L902.7 172.1 L902.9 170.3 L903.1 168.7 L903.3 166.8 L903.5 163.3 L903.7 158.2 L903.9 157.0 L904.1 155.2 L904.3 153.5 L904.5 152.7 L904.7 152.4 L905.0 152.5 L905.2 150.2 L905.4 147.5 L905.6 144.8 L905.8 142.4 L906.0 138.4 L906.2 140.0 L906.4 137.7 L906.6 135.8 L906.8 136.0 L907.0 135.2 L907.2 132.0 L907.4 128.7 L907.6 127.1 L907.8 129.5 L908.0 132.4 L908.2 134.2 L908.5 133.7 L908.6 135.2 L908.8 137.7 L909.0 138.4 L909.2 138.0 L909.4 138.1 L909.6 136.0 L909.8 134.3 L910.0 133.0 L910.2 131.7 L910.4 130.6 L910.6 127.9 L910.9 126.1 L911.1 126.0 L911.3 125.1 L911.5 122.4 L911.7 121.8 L911.9 122.7 L912.1 121.4 L912.3 120.9 L912.5 121.6 L912.7 123.9 L912.9 124.9 L913.1 124.6 L913.3 126.3 L913.5 126.8 L913.7 126.6 L913.9 128.3 L914.1 128.2 L914.3 129.6 L914.6 130.5 L914.8 133.0 L915.0 134.3 L915.2 136.3 L915.4 135.8 L915.6 136.9 L915.8 139.0 L916.0 139.0 L916.2 140.8 L916.4 140.7 L916.6 144.0 L916.8 145.4 L917.0 147.7 L917.2 150.6 L917.4 152.2 L917.6 152.4 L917.8 154.7 L918.0 154.4 L918.3 152.8 L918.5 152.4 L918.7 150.3 L918.9 149.6 L919.1 149.5 L919.3 148.8 L919.5 148.4 L919.7 146.4 L919.9 148.3 L920.2 151.4 L920.4 156.0 L920.6 159.0 L920.8 162.8 L921.1 166.0 L921.3 166.7 L921.5 165.3 L921.8 165.1 L922.0 164.6 L922.2 162.9 L922.4 161.4 L922.6 162.6 L922.8 164.4 L923.1 165.4 L923.3 167.7 L923.5 169.3 L923.7 171.2 L923.9 170.9 L924.1 173.8 L924.3 170.5 L924.5 169.1 L924.7 168.6 L924.9 168.0 L925.1 168.6 L925.3 170.0 L925.5 173.5 L925.7 173.5 L925.9 171.3 L926.1 171.0 L926.3 170.4 L926.6 167.4 L926.8 168.4 L927.0 168.1 L927.2 170.6 L927.4 170.6 L927.6 168.5 L927.8 167.1 L928.0 163.5 L928.2 162.9 L928.4 162.7 L928.6 163.6 L928.8 162.9 L929.0 162.7 L929.2 161.9 L929.4 161.5 L929.6 159.9 L929.8 159.8 L930.0 157.0 L930.3 154.8 L930.5 153.4 L930.7 151.5 L930.9 152.4 L931.1 152.4 L931.3 153.1 L931.5 154.9 L931.7 154.9 L931.9 157.1 L932.1 157.6 L932.3 159.0 L932.5 158.7 L932.7 156.4 L932.9 155.7 L933.1 154.8 L933.3 154.6 L933.5 156.1 L933.7 156.2 L934.0 155.0 L934.2 155.3 L934.4 155.2 L934.6 154.7 L934.8 154.5 L935.0 154.9 L935.2 157.5 L935.4 158.4 L935.6 157.9 L935.8 156.6 L936.0 155.9 L936.2 156.0 L936.4 155.8 L936.6 156.0 L936.8 154.8 L937.0 152.7 L937.2 154.9 L937.5 153.1 L937.7 152.0 L937.9 149.7 L938.1 149.9 L938.3 140.7 L938.5 139.8 L938.8 140.6 L939.0 141.1 L939.2 143.0 L939.4 138.7 L939.6 139.6 L939.8 138.3 L940.0 136.4" fill="none" stroke="#0b2a70" stroke-width="1.55" stroke-linejoin="round" stroke-linecap="round"/>
<path d="M538.2 242.2 L538.4 241.4 L538.6 242.8 L538.7 244.0 L538.9 245.2 L539.1 247.2 L539.3 245.5 L539.5 243.4 L539.8 243.2 L539.9 245.2 L540.1 248.8 L540.3 250.8 L540.5 255.1 L540.7 251.9 L540.9 250.4 L541.1 248.2 L541.3 244.0 L541.5 246.9 L541.7 247.1 L541.9 247.9 L542.1 250.1 L542.3 250.1 L542.5 247.7 L542.6 248.5 L542.8 247.5 L543.0 248.3 L543.2 248.8 L543.4 249.7 L543.6 250.9 L543.7 249.9 L543.9 250.2 L544.1 248.5 L544.3 247.8 L544.5 248.7 L544.7 248.6 L544.9 246.8 L545.1 246.6 L545.3 248.1 L545.5 249.5 L545.7 248.7 L545.9 247.8 L546.1 247.4 L546.3 247.5 L546.5 246.8 L546.7 248.1 L546.9 247.2 L547.1 247.2 L547.3 247.8 L547.4 247.2 L547.6 248.4 L547.8 248.0 L548.0 247.9 L548.2 248.4 L548.5 247.8 L548.7 246.7 L548.9 247.3 L549.1 247.5 L549.3 246.8 L549.5 246.7 L549.7 247.9 L549.9 247.8 L550.1 248.5 L550.3 248.8 L550.4 249.7 L550.6 249.0 L550.8 248.7 L551.0 248.3 L551.2 248.6 L551.4 248.7 L551.6 248.5 L551.8 249.7 L552.0 249.6 L552.2 247.9 L552.4 248.3 L552.6 248.9 L552.8 249.8 L553.0 249.8 L553.2 250.5 L553.4 251.5 L553.6 252.2 L553.8 252.6 L554.0 253.2 L554.2 254.3 L554.4 255.2 L554.6 254.2 L554.8 254.8 L555.0 254.9 L555.2 256.5 L555.4 255.4 L555.6 256.2 L555.8 255.0 L556.0 254.5 L556.2 254.8 L556.3 255.0 L556.5 255.3 L556.7 254.8 L556.9 254.6 L557.1 253.7 L557.3 254.0 L557.5 253.5 L557.7 253.5 L557.9 254.0 L558.1 253.3 L558.3 253.5 L558.5 254.4 L558.7 254.3 L558.9 254.3 L559.1 254.3 L559.3 253.2 L559.5 251.8 L559.7 251.3 L559.9 251.2 L560.1 250.3 L560.3 251.7 L560.5 250.6 L560.7 250.1 L560.9 251.6 L561.1 250.2 L561.3 250.7 L561.5 251.2 L561.7 252.2 L561.9 250.9 L562.1 250.0 L562.2 250.8 L562.4 251.6 L562.6 252.3 L562.8 252.1 L563.0 252.2 L563.2 252.3 L563.4 251.6 L563.6 251.2 L563.8 252.1 L564.0 254.2 L564.2 252.4 L564.4 252.6 L564.6 253.6 L564.8 254.1 L565.0 252.8 L565.2 253.2 L565.4 253.8 L565.6 255.5 L565.8 254.0 L566.0 254.1 L566.2 253.4 L566.4 253.2 L566.5 250.9 L566.7 250.5 L566.9 248.5 L567.1 246.4 L567.3 245.6 L567.5 248.1 L567.7 249.5 L567.8 250.7 L568.0 252.8 L568.2 255.2 L568.4 253.1 L568.6 254.9 L568.8 255.9 L569.0 257.2 L569.1 258.1 L569.3 258.4 L569.5 258.7 L569.7 256.0 L570.0 255.5 L570.2 256.4 L570.4 255.6 L570.6 253.0 L570.8 254.8 L571.0 255.0 L571.1 255.1 L571.3 256.3 L571.5 256.7 L571.7 258.3 L571.9 256.9 L572.1 258.1 L572.2 256.2 L572.4 254.6 L572.6 254.3 L572.8 255.1 L573.0 255.3 L573.2 254.5 L573.4 254.6 L573.6 254.6 L573.8 254.2 L574.0 255.5 L574.2 253.6 L574.4 253.2 L574.6 251.8 L574.8 248.5 L575.0 246.9 L575.1 244.4 L575.3 246.0 L575.5 247.4 L575.7 248.2 L575.9 247.0 L576.1 248.2 L576.3 249.0 L576.5 248.9 L576.6 249.4 L576.8 249.8 L577.0 250.0 L577.2 247.7 L577.4 248.4 L577.6 248.0 L577.8 247.8 L578.0 249.3 L578.2 247.7 L578.5 248.5 L578.6 248.4 L578.8 248.9 L579.0 249.5 L579.2 249.9 L579.4 251.4 L579.6 250.5 L579.7 250.3 L579.9 251.1 L580.1 250.6 L580.3 248.7 L580.5 249.6 L580.7 248.8 L580.9 250.3 L581.1 249.1 L581.3 249.6 L581.5 250.7 L581.7 250.6 L581.9 250.7 L582.1 250.2 L582.3 250.7 L582.5 250.3 L582.8 251.2 L583.0 252.2 L583.2 249.3 L583.4 248.5 L583.5 246.8 L583.7 249.0 L583.9 247.2 L584.1 246.0 L584.3 245.6 L584.5 246.2 L584.6 246.8 L584.8 246.3 L585.0 247.3 L585.2 250.0 L585.4 252.5 L585.6 252.6 L585.8 251.8 L586.0 249.9 L586.2 249.6 L586.4 247.7 L586.6 246.9 L586.8 247.4 L587.0 248.1 L587.3 246.9 L587.5 246.3 L587.7 245.9 L587.9 246.4 L588.1 248.2 L588.3 246.6 L588.4 246.4 L588.6 246.9 L588.8 247.2 L589.0 248.4 L589.2 249.4 L589.4 250.0 L589.6 250.6 L589.8 250.5 L590.0 251.2 L590.2 250.1 L590.4 251.7 L590.6 252.2 L590.8 252.9 L591.0 252.5 L591.2 251.4 L591.3 251.7 L591.5 251.7 L591.7 252.0 L591.9 251.5 L592.1 252.5 L592.3 252.7 L592.5 255.0 L592.7 254.5 L592.9 254.5 L593.1 255.1 L593.3 255.7 L593.5 256.7 L593.7 257.0 L593.9 257.4 L594.1 257.5 L594.3 257.7 L594.5 258.0 L594.7 258.1 L594.9 258.5 L595.1 258.7 L595.3 258.5 L595.5 259.6 L595.7 261.8 L595.9 260.1 L596.1 257.9 L596.3 258.4 L596.5 258.3 L596.7 259.4 L596.9 259.9 L597.1 260.9 L597.2 260.0 L597.4 259.2 L597.6 259.1 L597.8 258.4 L598.0 258.5 L598.2 259.0 L598.4 258.7 L598.6 258.8 L598.8 258.3 L599.0 258.7 L599.2 258.7 L599.4 258.0 L599.6 257.8 L599.8 258.4 L600.0 258.5 L600.2 258.3 L600.4 258.7 L600.6 259.7 L600.8 260.8 L601.0 259.1 L601.2 260.1 L601.4 261.4 L601.6 262.2 L601.8 262.6 L602.0 263.8 L602.2 262.9 L602.4 263.8 L602.6 264.0 L602.8 262.2 L603.0 261.8 L603.1 261.1 L603.3 262.0 L603.5 262.3 L603.7 263.0 L603.9 263.9 L604.1 262.5 L604.3 261.0 L604.5 258.6 L604.7 260.6 L604.9 258.6 L605.1 257.0 L605.3 258.9 L605.5 257.5 L605.7 258.1 L605.9 259.6 L606.1 261.1 L606.3 259.9 L606.5 260.4 L606.7 261.1 L606.8 260.4 L607.0 261.0 L607.2 261.7 L607.4 262.8 L607.6 264.3 L607.7 267.6 L607.9 272.6 L608.1 276.6 L608.3 281.6 L608.5 289.4 L608.6 294.7 L608.8 296.9 L609.0 302.3 L609.2 308.1 L609.4 303.8 L609.6 299.0 L609.7 295.0 L609.9 288.7 L610.1 286.0 L610.3 284.0 L610.5 289.1 L610.7 295.3 L610.8 299.7 L611.0 299.0 L611.2 298.6 L611.4 299.0 L611.6 294.4 L611.8 292.0 L611.9 290.7 L612.2 289.1 L612.4 288.4 L612.6 285.6 L612.9 285.4 L613.1 287.6 L613.3 288.5 L613.5 289.9 L613.7 291.6 L613.9 292.4 L614.1 293.1 L614.3 292.8 L614.5 291.9 L614.7 291.4 L615.0 289.2 L615.2 290.8 L615.4 293.9 L615.6 295.2 L615.8 296.1 L616.0 295.0 L616.2 293.8 L616.4 293.0 L616.6 294.3 L616.8 292.8 L617.0 292.2 L617.2 291.5 L617.4 291.5 L617.6 290.7 L617.8 290.5 L618.0 293.0 L618.2 291.6 L618.5 292.5 L618.7 292.0 L618.9 290.5 L619.1 290.9 L619.3 293.0 L619.5 292.9 L619.7 293.0 L619.9 294.8 L620.1 296.0 L620.3 295.2 L620.5 294.1 L620.7 292.7 L620.9 295.3 L621.1 298.1 L621.3 299.1 L621.5 299.6 L621.7 300.4 L621.9 301.8 L622.2 300.9 L622.4 301.3 L622.6 301.7 L622.8 302.5 L623.0 303.7 L623.2 306.0 L623.4 305.2 L623.6 303.5 L623.8 300.3 L624.0 301.0 L624.2 299.1 L624.4 297.8 L624.6 297.3 L624.8 295.8 L625.0 294.8 L625.2 293.9 L625.4 291.3 L625.7 290.6 L625.9 288.0 L626.1 285.2 L626.3 285.1 L626.5 283.8 L626.7 281.4 L626.9 281.8 L627.1 282.8 L627.3 282.9 L627.5 283.8 L627.7 284.2 L627.9 285.5 L628.1 285.3 L628.3 284.6 L628.5 285.4 L628.7 285.4 L628.9 285.4 L629.1 285.9 L629.4 286.4 L629.6 286.8 L629.8 287.5 L630.0 289.3 L630.2 291.3 L630.4 292.8 L630.6 294.2 L630.8 292.6 L631.0 291.6 L631.2 291.7 L631.4 291.7 L631.6 291.7 L631.8 290.4 L632.0 289.5 L632.2 288.4 L632.4 286.4 L632.6 285.7 L632.8 284.5 L633.1 283.4 L633.3 281.9 L633.5 282.2 L633.7 278.9 L633.9 278.3 L634.1 279.3 L634.3 278.3 L634.5 277.5 L634.7 279.0 L634.9 276.6 L635.1 276.1 L635.2 273.7 L635.5 270.5 L635.7 268.1 L635.9 265.8 L636.2 266.8 L636.4 266.0 L636.6 268.6 L636.8 268.5 L637.0 266.1 L637.2 265.1 L637.4 264.4 L637.6 264.7 L637.9 264.1 L638.1 263.4 L638.3 262.0 L638.5 265.0 L638.7 265.9 L638.9 266.9 L639.1 268.7 L639.3 269.0 L639.5 269.0 L639.7 270.1 L639.9 270.9 L640.1 270.1 L640.3 270.1 L640.5 269.5 L640.7 269.0 L640.9 268.2 L641.1 268.1 L641.4 269.2 L641.6 269.0 L641.8 268.3 L642.0 268.0 L642.2 268.2 L642.4 268.8 L642.6 268.0 L642.8 266.2 L643.0 266.4 L643.2 265.0 L643.4 262.4 L643.6 260.8 L643.8 258.7 L643.9 260.7 L644.1 264.0 L644.3 265.8 L644.5 265.9 L644.7 266.1 L644.9 268.2 L645.1 269.1 L645.3 269.2 L645.5 268.2 L645.7 268.1 L645.9 266.1 L646.1 266.4 L646.4 264.8 L646.6 263.8 L646.8 263.0 L647.0 263.6 L647.2 264.3 L647.4 265.2 L647.6 265.1 L647.8 265.3 L648.0 266.5 L648.2 266.6 L648.4 266.8 L648.6 267.9 L648.8 267.9 L649.0 268.5 L649.2 269.9 L649.4 270.3 L649.6 270.1 L649.9 269.4 L650.1 270.6 L650.3 269.6 L650.5 269.8 L650.7 269.0 L650.9 268.9 L651.1 268.1 L651.3 268.7 L651.5 268.2 L651.7 267.8 L651.9 267.6 L652.1 267.9 L652.3 266.8 L652.5 265.8 L652.7 266.4 L652.9 267.0 L653.1 266.7 L653.3 266.6 L653.6 266.1 L653.8 266.6 L654.0 266.3 L654.2 266.9 L654.4 265.4 L654.6 265.0 L654.8 265.3 L655.0 264.5 L655.2 263.8 L655.4 264.3 L655.6 264.1 L655.8 264.1 L656.0 264.8 L656.2 263.8 L656.4 263.0 L656.6 262.7 L656.8 263.6 L657.1 263.1 L657.3 262.6 L657.5 261.9 L657.7 262.2 L657.9 263.4 L658.1 263.5 L658.3 264.4 L658.5 264.2 L658.7 264.6 L658.9 264.8 L659.1 265.6 L659.3 266.2 L659.5 266.6 L659.7 266.8 L659.9 266.4 L660.1 266.9 L660.3 266.9 L660.5 266.5 L660.8 267.4 L661.0 267.1 L661.2 267.1 L661.4 267.8 L661.6 268.6 L661.8 268.5 L662.0 268.5 L662.2 268.5 L662.4 269.4 L662.6 270.4 L662.8 269.7 L663.0 270.6 L663.2 269.1 L663.4 268.7 L663.6 268.6 L663.8 268.6 L664.0 268.3 L664.2 268.4 L664.5 267.5 L664.7 265.9 L664.9 266.0 L665.1 265.7 L665.3 265.0 L665.5 264.4 L665.7 263.8 L665.9 264.6 L666.1 264.0 L666.3 263.6 L666.5 263.4 L666.7 263.8 L666.9 264.0 L667.1 263.8 L667.3 264.0 L667.5 263.1 L667.7 263.7 L668.0 263.0 L668.2 262.9 L668.4 264.0 L668.6 264.1 L668.8 263.9 L669.0 263.3 L669.2 264.3 L669.4 263.9 L669.6 264.8 L669.8 265.4 L670.0 265.7 L670.2 265.9 L670.4 265.3 L670.6 265.4 L670.8 265.0 L671.0 265.2 L671.2 264.6 L671.4 264.8 L671.7 264.4 L671.9 265.3 L672.1 264.7 L672.3 263.5 L672.5 262.5 L672.7 263.9 L672.9 264.4 L673.1 263.8 L673.3 263.1 L673.5 263.1 L673.7 262.1 L673.9 262.2 L674.1 261.8 L674.3 262.5 L674.5 261.6 L674.7 262.0 L674.9 262.7 L675.2 262.7 L675.4 262.3 L675.6 261.1 L675.8 261.0 L676.0 260.8 L676.2 261.4 L676.4 260.6 L676.6 259.9 L676.8 259.7 L677.0 260.1 L677.2 260.8 L677.4 261.1 L677.6 260.1 L677.8 260.3 L678.0 260.8 L678.2 261.8 L678.4 261.3 L678.6 261.4 L678.9 261.9 L679.1 262.3 L679.3 262.7 L679.5 262.7 L679.7 262.8 L679.9 263.9 L680.1 264.8 L680.3 265.0 L680.5 264.2 L680.7 263.7 L680.9 263.2 L681.1 264.0 L681.3 263.8 L681.5 263.5 L681.7 263.1 L681.9 263.3 L682.1 262.8 L682.3 262.6 L682.6 262.3 L682.8 262.3 L683.0 261.4 L683.2 261.6 L683.4 261.8 L683.6 261.0 L683.8 260.8 L684.0 260.3 L684.2 260.3 L684.4 260.1 L684.6 260.4 L684.8 260.4 L685.0 260.3 L685.2 261.2 L685.4 260.9 L685.6 261.3 L685.8 261.0 L686.1 261.5 L686.3 260.6 L686.5 261.3 L686.7 261.2 L686.9 261.6 L687.1 262.0 L687.3 262.5 L687.5 262.5 L687.7 261.9 L687.9 262.1 L688.1 262.1 L688.3 262.1 L688.5 262.5 L688.7 263.0 L688.9 263.6 L689.1 264.1 L689.3 264.8 L689.5 265.1 L689.8 265.7 L690.0 266.1 L690.2 265.4 L690.4 265.2 L690.6 265.6 L690.8 265.9 L691.0 266.6 L691.2 265.9 L691.4 264.4 L691.6 265.0 L691.8 265.4 L692.0 264.6 L692.2 263.7 L692.4 262.8 L692.6 262.0 L692.8 260.5 L693.0 260.1 L693.2 261.1 L693.5 260.8 L693.7 260.9 L693.9 262.0 L694.1 262.7 L694.3 263.0 L694.5 263.0 L694.7 262.6 L694.9 262.5 L695.1 262.0 L695.3 262.2 L695.5 261.7 L695.7 260.5 L695.9 261.1 L696.1 261.3 L696.3 261.2 L696.5 260.5 L696.7 261.3 L697.0 260.7 L697.2 261.6 L697.4 261.2 L697.6 260.0 L697.8 259.9 L698.0 259.0 L698.2 259.7 L698.4 260.2 L698.6 260.5 L698.8 259.3 L699.0 259.2 L699.2 258.9 L699.4 258.8 L699.6 259.4 L699.8 260.3 L700.0 260.1 L700.2 260.1 L700.4 261.0 L700.7 260.9 L700.9 262.2 L701.1 262.0 L701.3 262.2 L701.5 261.4 L701.7 262.7 L701.9 263.8 L702.1 264.6 L702.3 265.7 L702.5 266.5 L702.7 268.5 L702.9 268.0 L703.1 268.7 L703.3 269.0 L703.5 269.2 L703.7 270.0 L703.9 270.4 L704.2 269.1 L704.4 269.6 L704.6 270.9 L704.8 270.5 L705.0 270.3 L705.2 271.8 L705.4 272.6 L705.6 272.4 L705.8 273.1 L706.0 274.8 L706.2 274.9 L706.4 275.4 L706.6 275.7 L706.8 276.8 L707.0 276.6 L707.2 277.5 L707.4 277.8 L707.6 276.9 L707.9 277.7 L708.1 278.7 L708.3 279.5 L708.5 280.3 L708.7 280.1 L708.9 280.1 L709.1 280.8 L709.3 281.5 L709.5 281.8 L709.7 281.6 L709.9 281.7 L710.1 281.0 L710.3 281.1 L710.5 279.9 L710.7 280.5 L710.9 281.7 L711.1 282.5 L711.3 283.1 L711.6 283.9 L711.8 283.9 L712.0 284.1 L712.2 284.4 L712.4 284.0 L712.6 284.2 L712.8 284.8 L713.0 285.4 L713.2 286.2 L713.4 286.2 L713.6 285.7 L713.8 285.3 L714.0 285.6 L714.2 286.4 L714.4 287.4 L714.6 287.3 L714.8 286.9 L715.1 286.5 L715.3 285.6 L715.5 284.7 L715.7 284.5 L715.9 285.4 L716.1 285.3 L716.3 283.7 L716.5 283.3 L716.7 283.2 L716.9 283.5 L717.1 283.1 L717.3 281.9 L717.5 281.9 L717.7 283.1 L717.9 283.4 L718.1 282.7 L718.3 281.6 L718.5 282.8 L718.8 283.1 L719.0 283.4 L719.2 283.7 L719.4 284.4 L719.6 285.1 L719.8 285.7 L720.0 286.0 L720.1 284.7 L720.4 285.3 L720.6 286.5 L720.8 286.7 L721.0 286.3 L721.2 287.4 L721.4 290.4 L721.6 291.2 L721.8 291.4 L722.0 292.8 L722.2 293.6 L722.4 294.8 L722.6 296.9 L722.8 298.8 L723.0 300.1 L723.2 301.0 L723.4 302.6 L723.6 301.8 L723.8 300.5 L724.1 299.9 L724.3 299.4 L724.5 297.7 L724.7 297.1 L724.9 297.3 L725.1 296.7 L725.3 296.6 L725.5 295.0 L725.7 293.9 L725.9 291.8 L726.1 293.1 L726.3 295.8 L726.5 295.8 L726.7 296.7 L726.9 296.1 L727.1 296.1 L727.3 297.5 L727.6 296.7 L727.8 298.2 L728.0 300.3 L728.2 300.8 L728.4 303.0 L728.6 302.5 L728.8 304.5 L729.0 303.7 L729.2 303.1 L729.4 301.9 L729.6 301.4 L729.8 301.9 L730.0 302.2 L730.2 301.6 L730.4 300.9 L730.6 301.3 L730.8 300.3 L731.0 298.2 L731.3 298.2 L731.5 295.3 L731.7 294.7 L731.9 296.9 L732.1 299.5 L732.3 300.7 L732.5 302.6 L732.7 304.6 L732.9 303.7 L733.1 304.8 L733.3 305.0 L733.5 302.7 L733.7 302.1 L733.9 299.3 L734.1 296.9 L734.3 294.3 L734.5 295.3 L734.7 293.7 L735.0 294.5 L735.2 295.9 L735.4 293.7 L735.6 292.7 L735.8 291.9 L736.0 291.3 L736.2 289.5 L736.4 287.9 L736.6 285.3 L736.8 287.0 L737.0 286.4 L737.2 285.3 L737.4 283.0 L737.6 282.4 L737.8 284.1 L738.0 285.2 L738.2 286.7 L738.5 286.8 L738.7 286.0 L738.9 285.5 L739.1 285.7 L739.3 286.1 L739.5 283.4 L739.7 282.6 L739.9 281.7 L740.1 280.0 L740.3 277.6 L740.5 277.9 L740.7 275.5 L740.9 274.3 L741.1 274.1 L741.3 273.3 L741.5 274.4 L741.7 274.0 L741.9 273.5 L742.2 274.6 L742.4 273.5 L742.6 271.9 L742.8 274.1 L743.0 274.7 L743.2 276.6 L743.4 279.5 L743.6 279.2 L743.8 281.8 L744.0 281.4 L744.2 281.1 L744.4 281.3 L744.6 282.9 L744.8 282.9 L745.0 284.9 L745.2 284.9 L745.4 286.0 L745.7 288.2 L745.9 289.6 L746.1 289.0 L746.3 289.2 L746.5 289.1 L746.7 293.6 L746.8 297.0 L747.0 302.3 L747.3 306.7 L747.5 309.6 L747.7 312.8 L747.9 306.3 L748.2 302.1 L748.4 293.5 L748.6 286.3 L748.9 280.8 L749.1 273.9 L749.3 275.0 L749.5 277.7 L749.8 278.4 L750.0 279.6 L750.2 280.9 L750.4 282.6 L750.7 283.3 L750.9 284.1 L751.1 283.7 L751.3 284.8 L751.5 284.9 L751.8 285.9 L752.0 289.4 L752.2 287.5 L752.4 288.7 L752.6 289.0 L752.8 290.1 L753.0 289.9 L753.2 291.4 L753.4 292.5 L753.6 292.3 L753.8 291.4 L754.0 289.3 L754.2 288.8 L754.4 288.5 L754.6 286.3 L754.8 285.6 L755.0 286.2 L755.2 286.1 L755.5 286.4 L755.7 285.7 L755.9 284.3 L756.1 284.2 L756.3 282.8 L756.5 283.8 L756.7 283.0 L756.9 282.5 L757.1 283.3 L757.3 284.6 L757.5 284.5 L757.7 284.4 L757.9 284.2 L758.1 281.7 L758.3 282.4 L758.5 281.3 L758.7 283.0 L759.0 282.5 L759.2 283.5 L759.4 284.5 L759.6 287.8 L759.8 290.3 L760.0 292.6 L760.2 294.0 L760.4 296.0 L760.6 297.9 L760.7 303.6 L760.9 301.9 L761.1 296.6 L761.3 291.1 L761.5 290.4 L761.7 289.5 L761.9 287.6 L762.1 285.9 L762.3 284.8 L762.5 283.6 L762.7 281.9 L762.9 281.2 L763.1 281.0 L763.3 282.7 L763.5 281.5 L763.8 281.2 L764.0 282.7 L764.2 283.0 L764.4 284.3 L764.6 284.3 L764.8 283.0 L765.0 283.3 L765.2 284.3 L765.4 284.5 L765.6 284.0 L765.8 285.6 L766.0 286.2 L766.2 285.2 L766.4 284.5 L766.6 283.4 L766.8 284.0 L767.0 285.4 L767.2 284.6 L767.5 284.6 L767.7 283.8 L767.9 283.3 L768.1 282.6 L768.3 282.4 L768.5 281.3 L768.7 280.5 L768.9 281.2 L769.1 280.9 L769.3 281.0 L769.5 280.3 L769.7 279.4 L769.9 279.7 L770.1 280.9 L770.3 281.2 L770.5 281.2 L770.7 280.3 L770.9 280.0 L771.2 280.1 L771.4 280.7 L771.6 281.3 L771.8 282.0 L772.0 283.1 L772.2 282.3 L772.4 282.5 L772.6 282.8 L772.8 284.0 L773.0 283.5 L773.2 282.8 L773.4 281.9 L773.6 281.9 L773.8 281.5 L774.0 283.2 L774.2 282.6 L774.4 282.9 L774.7 282.8 L774.9 283.2 L775.1 284.1 L775.3 282.8 L775.5 283.4 L775.7 284.2 L775.9 283.2 L776.1 282.9 L776.3 282.7 L776.5 283.9 L776.7 283.2 L776.9 283.1 L777.1 283.4 L777.3 284.3 L777.5 284.4 L777.7 283.4 L777.9 284.3 L778.1 283.7 L778.4 283.5 L778.6 284.3 L778.8 283.9 L779.0 283.4 L779.2 283.1 L779.4 282.4 L779.6 280.1 L779.8 279.3 L780.0 278.5 L780.2 276.9 L780.4 275.3 L780.6 274.4 L780.8 272.6 L781.0 272.6 L781.2 273.6 L781.4 275.6 L781.6 276.9 L781.8 278.2 L782.1 279.0 L782.3 279.7 L782.5 280.3 L782.7 282.4 L782.9 283.8 L783.1 282.5 L783.3 282.5 L783.5 283.5 L783.7 283.2 L783.9 283.4 L784.1 283.8 L784.3 283.6 L784.5 282.9 L784.7 281.4 L784.9 280.6 L785.1 280.5 L785.3 280.2 L785.6 281.8 L785.8 281.8 L786.0 282.1 L786.2 281.6 L786.4 281.0 L786.6 280.5 L786.8 280.5 L787.0 280.2 L787.2 280.6 L787.4 280.6 L787.6 279.8 L787.8 280.6 L788.0 280.0 L788.2 280.2 L788.4 280.2 L788.6 280.2 L788.8 277.5 L789.0 275.9 L789.3 275.1 L789.5 276.6 L789.7 276.7 L789.9 278.0 L790.1 278.1 L790.3 278.3 L790.5 277.8 L790.7 277.2 L790.9 277.9 L791.1 276.5 L791.3 275.7 L791.5 273.8 L791.7 272.1 L791.9 273.1 L792.1 274.6 L792.3 277.8 L792.5 279.7 L792.8 280.4 L793.0 281.0 L793.2 280.2 L793.4 282.0 L793.6 282.6 L793.8 281.2 L794.0 282.6 L794.2 283.9 L794.4 283.3 L794.6 282.7 L794.8 282.8 L795.0 281.8 L795.2 280.3 L795.4 282.6 L795.6 283.6 L795.8 283.7 L796.0 283.5 L796.2 284.4 L796.5 284.4 L796.7 283.9 L796.9 283.9 L797.1 282.1 L797.3 282.8 L797.5 283.0 L797.7 282.3 L797.9 281.3 L798.1 281.9 L798.3 281.4 L798.5 281.1 L798.7 282.2 L798.9 281.9 L799.1 281.1 L799.3 280.0 L799.5 278.1 L799.7 277.0 L799.9 276.2 L800.2 276.1 L800.4 276.3 L800.6 276.3 L800.8 276.4 L801.0 275.8 L801.2 273.7 L801.4 274.7 L801.6 274.0 L801.8 274.1 L802.0 271.9 L802.2 272.2 L802.4 269.8 L802.6 269.3 L802.8 271.8 L803.0 273.0 L803.2 272.1 L803.4 273.4 L803.7 274.1 L803.9 273.3 L804.1 275.0 L804.3 274.2 L804.5 274.2 L804.7 272.3 L804.9 272.4 L805.1 272.6 L805.3 273.7 L805.5 273.7 L805.7 272.7 L805.9 272.6 L806.1 274.4 L806.3 274.1 L806.5 276.4 L806.7 275.3 L806.9 275.7 L807.1 275.3 L807.4 275.4 L807.6 275.7 L807.8 274.4 L808.0 274.3 L808.2 274.3 L808.4 274.1 L808.6 274.7 L808.8 273.4 L809.0 272.8 L809.2 273.2 L809.4 272.6 L809.6 271.0 L809.8 271.2 L810.0 271.8 L810.2 271.4 L810.4 269.6 L810.6 270.8 L810.9 268.7 L811.1 268.6 L811.3 268.1 L811.5 267.2 L811.7 265.9 L811.9 265.0 L812.1 264.9 L812.3 264.4 L812.5 263.2 L812.7 260.5 L812.9 261.8 L813.1 261.7 L813.3 261.6 L813.5 262.2 L813.7 262.3 L813.9 261.1 L814.1 261.9 L814.3 261.9 L814.6 262.7 L814.8 265.3 L815.0 266.8 L815.2 267.2 L815.4 269.4 L815.6 268.3 L815.8 267.0 L816.0 267.1 L816.2 265.7 L816.4 261.2 L816.6 258.7 L816.8 254.4 L817.0 250.9 L817.2 258.2 L817.4 253.7 L817.6 251.0 L817.8 250.2 L818.0 250.0 L818.2 247.9 L818.4 248.3 L818.6 248.2 L818.9 250.1 L819.1 250.2 L819.3 251.0 L819.5 251.8 L819.7 250.4 L819.9 247.1 L820.1 246.7 L820.3 246.0 L820.5 246.3 L820.7 245.4 L820.9 243.4 L821.1 242.3 L821.3 245.2 L821.5 248.3 L821.7 248.3 L821.9 248.4 L822.1 250.6 L822.4 251.2 L822.6 251.3 L822.8 253.3 L823.0 252.2 L823.2 253.5 L823.4 252.6 L823.6 251.6 L823.8 252.6 L824.0 251.9 L824.2 251.4 L824.4 249.1 L824.6 241.9 L824.8 233.4 L825.0 225.1 L825.1 230.0 L825.3 232.9 L825.5 234.3 L825.7 238.4 L825.9 240.8 L826.1 243.5 L826.3 246.0 L826.5 245.4 L826.7 244.6 L826.9 246.0 L827.1 248.7 L827.3 247.2 L827.5 245.9 L827.7 243.9 L827.9 246.1 L828.1 247.7 L828.3 248.7 L828.5 250.8 L828.7 251.6 L828.9 252.5 L829.1 254.4 L829.3 257.3 L829.5 257.6 L829.8 258.9 L830.0 258.7 L830.2 258.5 L830.4 257.1 L830.6 256.4 L830.8 256.4 L831.0 257.4 L831.2 258.0 L831.4 256.0 L831.6 253.6 L831.8 252.8 L832.0 249.6 L832.2 248.8 L832.4 246.7 L832.6 244.8 L832.8 245.2 L833.0 243.2 L833.3 242.6 L833.5 243.2 L833.7 240.0 L833.9 238.1 L834.1 237.5 L834.3 236.2 L834.5 236.0 L834.7 234.5 L834.9 233.6 L835.1 232.5 L835.3 233.1 L835.5 233.8 L835.7 235.3 L835.9 236.5 L836.1 235.7 L836.3 234.8 L836.5 234.9 L836.7 236.2 L836.9 232.9 L837.1 228.9 L837.3 224.3 L837.5 228.5 L837.7 231.2 L837.9 233.5 L838.1 234.7 L838.3 236.8 L838.5 239.8 L838.7 240.6 L838.9 242.4 L839.1 238.6 L839.4 237.2 L839.6 236.3 L839.8 234.8 L840.0 233.2 L840.2 232.3 L840.4 230.6 L840.6 230.8 L840.8 230.9 L841.0 229.6 L841.2 229.9 L841.4 229.4 L841.6 230.6 L841.8 227.6 L842.0 228.7 L842.2 227.1 L842.5 216.4 L842.7 206.3 L842.9 197.1 L843.1 222.3 L843.2 217.3 L843.4 213.4 L843.6 210.2 L843.7 186.3 L843.9 187.4 L844.1 191.1 L844.3 191.1 L844.6 193.2 L844.8 196.7 L845.0 202.2 L845.2 208.0 L845.5 209.6 L845.7 212.6 L845.9 212.3 L846.1 214.3 L846.3 212.4 L846.5 211.6 L846.7 210.1 L846.9 210.0 L847.1 210.6 L847.3 210.7 L847.5 210.8 L847.7 212.8 L847.9 212.2 L848.1 212.9 L848.3 214.4 L848.5 214.4 L848.7 213.5 L849.0 213.0 L849.2 213.3 L849.4 212.7 L849.6 214.0 L849.8 215.8 L850.0 217.9 L850.2 221.6 L850.4 225.3 L850.6 229.7 L850.7 234.5 L850.9 237.0 L851.1 242.2 L851.3 245.1 L851.5 245.0 L851.6 241.7 L851.8 241.3 L852.0 237.2 L852.2 236.0 L852.4 232.5 L852.7 230.8 L852.9 233.3 L853.1 234.8 L853.3 236.4 L853.5 235.7 L853.7 235.8 L853.9 237.3 L854.1 236.4 L854.3 239.4 L854.5 239.7 L854.7 238.7 L854.9 239.2 L855.1 241.9 L855.3 240.5 L855.5 241.7 L855.7 240.6 L855.9 239.8 L856.1 239.8 L856.4 238.8 L856.6 237.5 L856.8 236.8 L857.0 237.3 L857.2 236.0 L857.4 236.9 L857.6 235.0 L857.8 236.7 L858.0 238.0 L858.2 238.5 L858.4 241.3 L858.6 242.9 L858.8 243.0 L859.0 243.5 L859.2 245.7 L859.4 248.8 L859.6 250.5 L859.9 250.0 L860.1 250.6 L860.3 249.0 L860.5 247.1 L860.7 245.6 L860.9 240.7 L861.1 239.6 L861.3 238.2 L861.5 237.4 L861.7 235.6 L861.9 234.1 L862.1 233.7 L862.3 233.5 L862.5 232.7 L862.7 230.3 L862.9 229.7 L863.1 228.6 L863.3 224.9 L863.6 223.5 L863.8 222.2 L864.0 221.6 L864.2 219.6 L864.4 219.2 L864.6 218.0 L864.8 217.0 L865.0 215.2 L865.2 215.7 L865.4 215.1 L865.6 214.8 L865.8 211.9 L866.0 212.9 L866.2 213.9 L866.4 214.2 L866.6 213.9 L866.8 210.8 L867.1 209.8 L867.3 209.6 L867.5 204.8 L867.7 203.7 L867.9 202.7 L868.1 201.7 L868.3 201.1 L868.5 197.7 L868.7 194.1 L868.9 192.3 L869.1 192.5 L869.3 192.1 L869.5 192.5 L869.7 190.6 L869.9 189.2 L870.1 188.2 L870.3 187.0 L870.5 185.7 L870.7 185.9 L870.9 183.8 L871.2 182.5 L871.4 181.4 L871.6 181.0 L871.8 179.0 L872.0 176.8 L872.2 178.2 L872.4 180.0 L872.6 180.0 L872.8 180.3 L873.0 182.5 L873.2 183.4 L873.4 187.7 L873.6 189.1 L873.8 190.2 L874.0 191.4 L874.2 190.8 L874.4 191.8 L874.7 189.2 L874.9 187.5 L875.1 187.5 L875.3 187.5 L875.5 188.1 L875.7 190.5 L875.9 193.7 L876.1 195.3 L876.3 195.9 L876.5 196.3 L876.7 198.3 L876.9 197.0 L877.1 206.5 L877.3 213.5 L877.5 211.7 L877.7 212.4 L878.0 213.0 L878.2 215.6 L878.4 215.1 L878.6 216.6 L878.8 219.7 L879.0 222.0 L879.2 219.6 L879.4 219.0 L879.6 215.0 L879.8 212.5 L880.0 210.0 L880.2 207.9 L880.4 206.9 L880.6 204.3 L880.9 200.7 L881.1 199.2 L881.3 199.5 L881.4 201.2 L881.7 199.1 L881.9 198.8 L882.1 201.1 L882.3 200.8 L882.5 200.8 L882.7 201.4 L882.9 202.5 L883.1 200.7 L883.3 199.7 L883.5 200.5 L883.7 197.5 L883.8 197.2 L884.0 195.1 L884.3 197.5 L884.5 195.9 L884.7 194.6 L884.9 193.6 L885.1 193.9 L885.3 194.6 L885.5 193.7 L885.7 192.8 L885.9 192.6 L886.1 191.1 L886.3 189.4 L886.5 190.3 L886.7 188.4 L886.9 186.9 L887.1 186.1 L887.3 185.6 L887.5 185.2 L887.7 182.9 L887.9 181.8 L888.1 180.7 L888.3 180.6 L888.5 179.7 L888.7 180.6 L888.9 180.6 L889.1 182.6 L889.3 183.0 L889.5 183.7 L889.7 180.5 L889.9 178.5 L890.1 176.4 L890.4 177.2 L890.6 177.1 L890.8 175.2 L891.0 173.2 L891.2 172.5 L891.4 171.6 L891.6 169.6 L891.9 168.0 L892.1 173.8 L892.3 177.0 L892.5 180.7 L892.8 180.9 L893.0 183.5 L893.2 187.4 L893.4 190.7 L893.6 188.8 L893.8 186.7 L894.0 184.4 L894.2 182.4 L894.4 179.9 L894.6 177.5 L894.8 173.6 L895.0 173.8 L895.2 174.6 L895.4 176.7 L895.6 176.2 L895.8 176.6 L896.0 174.9 L896.2 173.2 L896.5 173.5 L896.7 171.8 L896.9 175.4 L897.1 177.3 L897.3 180.3 L897.5 182.5 L897.7 184.8 L897.9 188.0 L898.1 188.4 L898.3 192.2 L898.5 191.6 L898.7 194.2 L898.9 196.5 L899.1 198.7 L899.3 197.2 L899.5 192.7 L899.7 191.5 L899.9 188.8 L900.2 190.5 L900.4 190.5 L900.6 188.4 L900.8 186.0 L901.0 186.4 L901.2 187.0 L901.4 188.7 L901.6 187.4 L901.8 188.5 L902.0 188.8 L902.2 191.9 L902.4 193.2 L902.6 193.1 L902.8 192.4 L903.0 190.9 L903.2 189.3 L903.4 186.6 L903.7 187.4 L903.9 184.9 L904.1 183.4 L904.3 183.0 L904.5 183.3 L904.7 184.3 L904.9 181.4 L905.1 180.6 L905.3 182.3 L905.5 181.1 L905.7 181.3 L905.9 179.1 L906.1 175.7 L906.3 177.3 L906.5 174.4 L906.7 171.8 L906.9 173.2 L907.1 171.0 L907.4 169.3 L907.6 168.1 L907.8 169.0 L908.0 164.4 L908.2 162.8 L908.4 163.7 L908.6 164.6 L908.8 165.9 L909.0 165.8 L909.2 166.6 L909.4 164.3 L909.6 164.6 L909.8 164.4 L910.0 163.9 L910.2 163.9 L910.4 165.4 L910.6 166.3 L910.9 165.3 L911.1 164.6 L911.3 163.8 L911.5 161.2 L911.7 161.1 L911.9 160.3 L912.1 159.2 L912.3 158.2 L912.5 157.2 L912.7 157.0 L912.9 154.4 L913.1 152.1 L913.3 149.6 L913.5 150.3 L913.7 150.6 L913.9 151.0 L914.1 151.6 L914.3 148.6 L914.6 147.8 L914.8 146.0 L915.0 143.5 L915.2 143.8 L915.4 138.8 L915.6 137.8 L915.8 135.9 L916.0 134.5 L916.2 133.4 L916.4 130.6 L916.6 127.9 L916.8 126.1 L917.0 126.2 L917.2 124.7 L917.4 123.5 L917.6 121.8 L917.8 119.5 L918.0 118.1 L918.3 121.0 L918.5 122.3 L918.7 122.4 L918.9 124.9 L919.1 121.7 L919.2 119.3 L919.4 116.4 L919.6 117.9 L919.8 120.8 L920.0 123.4 L920.2 156.6 L920.4 141.0 L920.6 153.7 L920.8 165.6 L921.0 168.3 L921.2 170.4 L921.3 174.8 L921.5 174.8 L921.7 178.1 L921.9 180.1 L922.1 179.7 L922.3 178.5 L922.4 176.9 L922.6 174.4 L922.8 173.0 L923.1 169.0 L923.3 166.6 L923.5 163.9 L923.7 160.7 L923.9 155.3 L924.1 153.5 L924.3 153.5 L924.5 154.0 L924.7 152.4 L924.9 149.7 L925.1 147.0 L925.3 146.4 L925.5 147.5 L925.7 145.0 L925.9 144.8 L926.1 145.2 L926.3 146.2 L926.6 146.1 L926.8 147.8 L927.0 148.0 L927.2 148.6 L927.4 147.9 L927.6 148.6 L927.8 150.3 L928.0 149.7 L928.2 153.6 L928.4 153.2 L928.6 151.7 L928.8 149.9 L929.0 150.0 L929.2 148.1 L929.4 144.6 L929.6 145.3 L929.8 144.6 L930.1 139.5 L930.3 136.3 L930.5 133.4 L930.7 128.4 L930.9 129.0 L931.1 127.4 L931.3 128.0 L931.6 126.1 L931.8 126.4 L932.0 128.5 L932.2 129.3 L932.4 130.7 L932.6 129.7 L932.8 129.3 L933.0 129.0 L933.2 127.5 L933.4 126.3 L933.6 124.1 L933.8 120.7 L934.0 120.2 L934.2 119.2 L934.4 121.6 L934.6 123.1 L934.8 123.2 L935.1 124.2 L935.3 120.9 L935.5 119.8 L935.7 117.3 L935.9 118.1 L936.1 115.3 L936.2 110.3 L936.4 106.2 L936.6 107.7 L936.8 108.9 L937.0 110.6 L937.2 110.1 L937.5 112.8 L937.7 117.0 L937.9 122.5 L938.1 124.1 L938.3 119.2 L938.5 112.7 L938.7 111.0 L938.9 109.2 L939.1 111.1 L939.3 111.6 L939.5 111.9 L939.7 110.6 L939.9 110.3 L940.1 108.0 L940.3 107.6" fill="none" stroke="#c00000" stroke-width="1.55" stroke-linejoin="round" stroke-linecap="round"/>
<line x1="143.8" y1="379.6" x2="156.1" y2="379.6" stroke="#0b2a70" stroke-width="1.5"/>
<text x="157.0" y="382.9" font-size="9.6" text-anchor="start" font-weight="normal" fill="#222" textLength="98.2" lengthAdjust="spacingAndGlyphs">TOPIX bank sector (lhs)</text>
<line x1="274.2" y1="379.6" x2="286.8" y2="379.6" stroke="#c00000" stroke-width="1.5"/>
<text x="287.6" y="382.9" font-size="9.6" text-anchor="start" font-weight="normal" fill="#222" textLength="129.0" lengthAdjust="spacingAndGlyphs">2yr forward JPY OIS rates (rhs)</text>
<line x1="629.3" y1="379.1" x2="641.8" y2="379.1" stroke="#0b2a70" stroke-width="1.5"/>
<text x="642.7" y="382.4" font-size="9.6" text-anchor="start" font-weight="normal" fill="#222" textLength="55.9" lengthAdjust="spacingAndGlyphs">USD/JPY (lhs)</text>
<line x1="714.6" y1="379.1" x2="727.0" y2="379.1" stroke="#c00000" stroke-width="1.5"/>
<text x="727.8" y="382.4" font-size="9.6" text-anchor="start" font-weight="normal" fill="#222" textLength="129.3" lengthAdjust="spacingAndGlyphs">2yr forward JPY OIS rates (rhs)</text>
</svg>
<p class="source">Source: Bloomberg, Nomura</p>
</body>
</html>
